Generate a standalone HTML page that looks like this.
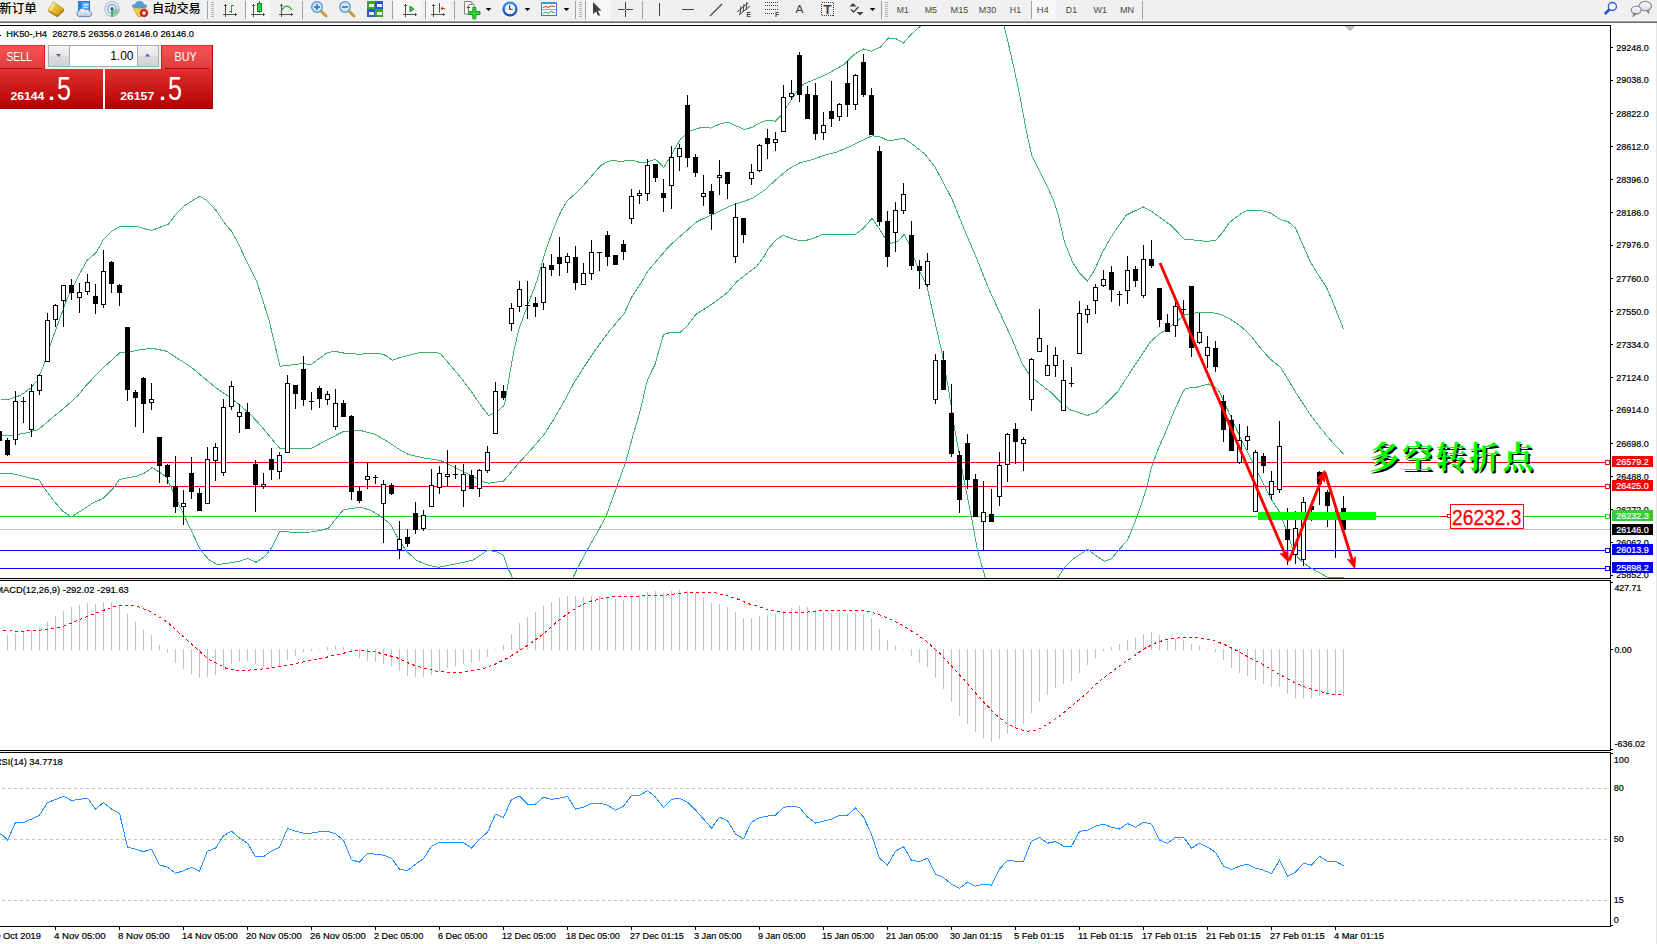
<!DOCTYPE html>
<html lang="zh"><head><meta charset="utf-8"><title>HK50-,H4</title>
<style>html,body{margin:0;padding:0;background:#fff;overflow:hidden}svg{display:block}text{white-space:pre}</style></head>
<body>
<svg width="1657" height="944" viewBox="0 0 1657 944" font-family="&quot;Liberation Sans&quot;, &quot;Noto Sans CJK SC&quot;, sans-serif">
<rect x="0" y="0" width="1657" height="944" fill="#ffffff"/>
<g shape-rendering="crispEdges">
<rect x="0" y="25" width="1611" height="1" fill="#000"/>
<rect x="1610" y="25" width="1" height="902" fill="#000"/>
<rect x="0" y="578" width="1611" height="1" fill="#000"/>
<rect x="0" y="580" width="1611" height="1" fill="#000"/>
<rect x="0" y="750" width="1611" height="1" fill="#000"/>
<rect x="0" y="752" width="1611" height="1" fill="#000"/>
<rect x="0" y="926" width="1611" height="1" fill="#000"/>
<rect x="0" y="579" width="1611" height="1" fill="#f0f0f0"/>
<rect x="0" y="751" width="1611" height="1" fill="#f0f0f0"/>
</g>
<clipPath id="cm"><rect x="0" y="26" width="1610" height="552"/></clipPath>
<g clip-path="url(#cm)" shape-rendering="crispEdges">
<rect x="0" y="462" width="1610" height="1" fill="#ff0000"/>
<rect x="0" y="486" width="1610" height="1" fill="#ff0000"/>
<rect x="0" y="516" width="1610" height="1" fill="#32cd32"/>
<rect x="0" y="529" width="1610" height="1" fill="#c0c0c0"/>
<rect x="0" y="550" width="1610" height="1" fill="#0000ff"/>
<rect x="0" y="568" width="1610" height="1" fill="#0000ff"/>
<polyline points="0.5,399.7 8.5,399.7 20.5,395.3 30.5,388.3 37.5,380.3 42.5,368.2 50.5,344.2 58.5,322.1 66.5,300.1 76.5,280.1 86.5,261.0 90.5,257.6 96.5,252.1 103.2,240.0 112.2,231.0 120.1,226.4 137.6,226.4 143.6,228.6 152.1,230.4 159.3,227.4 168.4,224.3 175.0,215.3 184.7,205.6 193.2,200.2 199.8,196.3 206.4,200.2 216.1,210.5 224.6,223.1 231.8,231.6 237.8,242.5 247.5,263.0 257.0,282.1 269.0,320.1 280.0,366.2 289.0,365.2 303.0,363.6 311.1,364.6 321.1,357.2 326.5,353.2 334.5,351.2 344.5,353.2 358.5,354.2 378.5,353.2 385.5,355.3 392.2,360.3 400.5,357.3 418.5,352.8 435.5,352.4 440.5,353.7 450.5,365.3 460.5,377.3 470.5,390.3 480.5,405.0 488.5,415.6 496.5,412.0 503.5,406.0 504.8,403.3 508.8,379.3 513.8,351.2 518.9,329.2 526.9,307.2 536.9,281.1 544.7,254.0 547.7,245.0 552.0,233.0 556.2,222.1 561.0,211.3 567.1,201.0 573.1,195.6 581.5,187.7 588.8,179.3 596.1,170.8 600.9,165.4 608.1,161.5 613.0,160.2 620.2,161.5 628.7,160.3 634.7,160.8 639.5,162.3 646.8,162.3 655.2,159.1 659.5,162.9 663.7,167.5 670.3,156.9 675.8,147.2 680.5,139.1 689.5,131.1 702.5,127.1 710.5,128.1 720.5,123.7 728.5,122.1 736.5,126.1 744.5,129.5 752.5,127.1 760.5,122.6 767.5,120.2 775.5,121.2 780.5,116.2 788.5,104.1 796.5,92.1 803.5,84.1 810.5,81.1 820.5,77.1 832.5,71.1 844.5,64.1 854.5,54.1 863.5,49.0 871.5,51.1 880.5,47.0 888.5,38.0 896.5,39.0 903.5,43.0 910.5,35.0 920.5,26.0 923.5,22.0" fill="none" stroke="#3cb371" stroke-width="1"/>
<polyline points="1003.0,22.0 1003.9,26.0 1008.9,46.0 1014.9,72.1 1021.0,102.1 1027.0,134.2 1032.0,156.2 1041.0,174.3 1049.0,190.3 1053.5,200.0 1058.5,216.0 1064.5,242.1 1072.5,262.1 1080.5,274.1 1087.5,281.1 1094.5,270.1 1102.5,252.1 1110.5,238.1 1118.5,226.0 1126.5,215.0 1134.5,211.0 1143.5,207.0 1152.5,212.0 1160.5,218.0 1170.5,225.0 1177.5,232.1 1184.0,239.1 1195.0,240.1 1207.0,241.5 1216.0,240.1 1223.0,232.1 1229.1,223.0 1232.5,220.0 1240.5,214.0 1247.5,210.0 1259.5,210.0 1270.5,213.0 1280.5,219.4 1288.5,222.0 1295.5,228.1 1302.5,244.1 1310.5,262.1 1318.5,275.1 1326.5,287.2 1334.5,306.2 1343.5,329.2" fill="none" stroke="#3cb371" stroke-width="1"/>
<polyline points="0.5,435.0 12.5,435.1 26.5,433.0 38.5,429.5 52.5,417.5 66.5,406.0 78.5,395.0 84.5,387.3 100.5,370.2 120.1,352.6 130.5,351.6 140.5,349.8 151.5,348.2 166.5,351.2 180.5,360.2 192.5,368.2 204.5,378.2 216.5,388.3 228.5,396.3 240.5,405.6 251.5,415.6 261.5,426.5 271.0,438.1 280.0,448.5 311.1,448.5 321.1,443.1 332.5,437.1 343.5,431.5 360.5,430.5 374.5,434.1 388.5,442.1 400.5,450.1 408.5,454.5 424.5,458.1 440.5,460.5 450.5,465.1 460.5,470.1 472.5,476.1 482.5,481.6 488.5,483.2 503.5,481.2 510.5,473.1 520.5,461.1 532.5,448.1 544.5,434.1 554.5,418.0 564.9,399.9 573.8,383.1 584.2,366.8 596.1,349.0 608.0,332.7 624.3,313.4 631.7,297.1 640.6,283.7 647.3,271.9 656.9,260.5 668.5,246.9 677.0,239.0 685.4,231.8 696.3,222.1 703.5,218.5 712.0,214.9 719.2,211.3 726.5,207.6 733.7,204.6 740.5,202.6 752.5,198.2 764.5,190.2 776.5,179.2 788.5,169.1 800.5,162.5 812.5,159.7 824.5,155.1 836.5,152.1 848.5,147.1 860.5,141.1 872.5,135.7 880.5,137.1 889.0,141.1 903.0,138.1 911.0,143.1 925.0,154.1 935.1,167.1 943.1,182.2 952.5,200.2 964.5,230.1 976.5,258.1 988.5,288.2 1000.5,314.2 1012.5,340.3 1022.5,364.3 1030.5,376.3 1040.5,384.3 1050.5,392.0 1060.5,402.0 1070.5,410.0 1087.5,415.4 1096.5,412.0 1106.5,403.0 1117.5,392.0 1128.9,374.3 1140.9,356.3 1150.9,341.3 1159.0,334.2 1167.0,329.2 1177.0,321.2 1185.0,314.6 1197.0,312.6 1209.0,312.2 1220.5,314.2 1230.5,319.2 1240.5,326.2 1250.5,335.2 1260.5,348.3 1270.5,359.3 1280.5,367.3 1288.5,380.3 1295.5,392.0 1308.5,412.0 1320.5,428.1 1330.5,440.1 1343.5,454.0" fill="none" stroke="#3cb371" stroke-width="1"/>
<polyline points="0.5,473.5 12.5,473.7 26.5,477.1 39.5,480.2 43.5,487.2 52.5,499.2 62.5,511.2 71.5,516.8 80.5,511.2 92.5,503.2 103.5,498.2 112.5,489.2 119.5,479.6 136.5,476.1 144.5,473.1 152.2,467.5 166.5,477.1 174.5,495.2 184.5,516.2 192.5,533.2 200.5,550.3 208.5,559.3 216.5,564.3 224.5,563.9 240.5,560.9 247.9,558.3 256.0,562.3 265.0,556.3 272.0,547.3 280.0,531.2 293.0,532.4 311.0,532.0 321.1,530.2 328.5,528.2 336.5,518.2 343.5,509.6 360.5,507.2 370.5,510.2 380.5,516.2 390.5,524.2 397.5,537.3 406.5,551.3 416.5,560.3 428.5,565.3 438.5,567.3 448.5,565.3 460.5,562.9 472.5,560.3 480.5,555.3 487.5,550.3 496.5,551.7 503.5,555.3 507.5,567.3 512.5,577.7 513.5,580.0" fill="none" stroke="#3cb371" stroke-width="1"/>
<polyline points="572.0,580.0 573.0,577.7 578.0,567.3 587.0,550.3 598.0,531.2 606.0,516.2 617.0,486.2 626.0,461.1 633.0,435.1 639.1,415.0 642.8,400.0 646.5,383.1 649.5,375.7 655.4,363.8 658.4,352.0 663.6,334.6 669.5,332.7 679.9,332.4 686.6,326.7 696.2,314.1 705.9,308.2 717.7,300.0 728.1,291.9 737.0,281.5 747.4,273.3 756.3,266.7 763.7,257.0 768.5,248.3 776.5,239.3 783.5,235.3 790.5,238.3 798.5,240.3 806.5,240.3 814.5,237.9 822.5,234.3 840.5,234.3 855.5,234.3 863.5,228.2 872.0,218.2 879.0,228.2 885.0,238.3 891.0,243.3 898.0,241.3 904.0,234.3 909.0,244.3 915.0,260.3 921.0,274.3 926.5,284.2 934.5,320.2 941.5,350.3 948.5,389.0 954.5,428.1 962.5,472.1 970.5,512.2 977.5,550.3 982.5,568.3 985.5,578.3 986.0,580.0" fill="none" stroke="#3cb371" stroke-width="1"/>
<polyline points="1057.0,580.0 1057.5,578.3 1064.5,567.3 1072.5,559.3 1080.5,554.3 1087.5,549.3 1095.5,555.3 1104.5,561.3 1111.5,558.7 1118.5,550.3 1127.5,540.3 1136.5,518.2 1146.5,488.2 1151.5,467.1 1158.5,448.1 1166.5,430.1 1174.5,410.0 1183.0,392.0 1185.5,388.3 1196.5,387.3 1208.5,384.0 1216.5,388.3 1219.5,392.0 1230.5,416.0 1240.5,438.1 1250.5,458.1 1260.5,478.2 1270.5,498.2 1278.5,510.2 1283.5,522.2 1288.5,536.3 1292.5,548.3 1298.5,558.3 1305.5,564.3 1312.5,568.9 1320.5,573.3 1327.5,577.3 1343.5,577.3" fill="none" stroke="#3cb371" stroke-width="1"/>
<rect x="-1" y="431" width="1" height="10" fill="#000"/>
<rect x="-3" y="431" width="5" height="10" fill="#000"/>
<rect x="7" y="438" width="1" height="18" fill="#000"/>
<rect x="5" y="440" width="5" height="15" fill="#000"/>
<rect x="15" y="391" width="1" height="54" fill="#000"/>
<rect x="13" y="401" width="5" height="39" fill="#000"/>
<rect x="14" y="402" width="3" height="37" fill="#fff"/>
<rect x="23" y="397" width="1" height="26" fill="#000"/>
<rect x="21" y="401" width="5" height="1" fill="#000"/>
<rect x="31" y="384" width="1" height="53" fill="#000"/>
<rect x="29" y="391" width="5" height="39" fill="#000"/>
<rect x="30" y="392" width="3" height="37" fill="#fff"/>
<rect x="39" y="374" width="1" height="21" fill="#000"/>
<rect x="37" y="375" width="5" height="16" fill="#000"/>
<rect x="38" y="376" width="3" height="14" fill="#fff"/>
<rect x="47" y="313" width="1" height="49" fill="#000"/>
<rect x="45" y="320" width="5" height="42" fill="#000"/>
<rect x="46" y="321" width="3" height="40" fill="#fff"/>
<rect x="55" y="304" width="1" height="23" fill="#000"/>
<rect x="53" y="305" width="5" height="15" fill="#000"/>
<rect x="54" y="306" width="3" height="13" fill="#fff"/>
<rect x="63" y="285" width="1" height="42" fill="#000"/>
<rect x="61" y="285" width="5" height="16" fill="#000"/>
<rect x="62" y="286" width="3" height="14" fill="#fff"/>
<rect x="71" y="279" width="1" height="21" fill="#000"/>
<rect x="69" y="285" width="5" height="8" fill="#000"/>
<rect x="79" y="283" width="1" height="30" fill="#000"/>
<rect x="77" y="292" width="5" height="6" fill="#000"/>
<rect x="78" y="293" width="3" height="4" fill="#fff"/>
<rect x="87" y="274" width="1" height="21" fill="#000"/>
<rect x="85" y="282" width="5" height="10" fill="#000"/>
<rect x="86" y="283" width="3" height="8" fill="#fff"/>
<rect x="95" y="284" width="1" height="30" fill="#000"/>
<rect x="93" y="296" width="5" height="8" fill="#000"/>
<rect x="103" y="250" width="1" height="58" fill="#000"/>
<rect x="101" y="271" width="5" height="34" fill="#000"/>
<rect x="102" y="272" width="3" height="32" fill="#fff"/>
<rect x="111" y="261" width="1" height="32" fill="#000"/>
<rect x="109" y="262" width="5" height="22" fill="#000"/>
<rect x="119" y="284" width="1" height="22" fill="#000"/>
<rect x="117" y="285" width="5" height="8" fill="#000"/>
<rect x="127" y="327" width="1" height="74" fill="#000"/>
<rect x="125" y="327" width="5" height="63" fill="#000"/>
<rect x="135" y="390" width="1" height="37" fill="#000"/>
<rect x="133" y="392" width="5" height="6" fill="#000"/>
<rect x="143" y="377" width="1" height="56" fill="#000"/>
<rect x="141" y="378" width="5" height="26" fill="#000"/>
<rect x="151" y="383" width="1" height="27" fill="#000"/>
<rect x="149" y="399" width="5" height="4" fill="#000"/>
<rect x="150" y="400" width="3" height="2" fill="#fff"/>
<rect x="159" y="437" width="1" height="46" fill="#000"/>
<rect x="157" y="437" width="5" height="29" fill="#000"/>
<rect x="167" y="464" width="1" height="20" fill="#000"/>
<rect x="165" y="465" width="5" height="12" fill="#000"/>
<rect x="175" y="456" width="1" height="57" fill="#000"/>
<rect x="173" y="486" width="5" height="21" fill="#000"/>
<rect x="183" y="490" width="1" height="35" fill="#000"/>
<rect x="181" y="503" width="5" height="4" fill="#000"/>
<rect x="182" y="504" width="3" height="2" fill="#fff"/>
<rect x="191" y="457" width="1" height="42" fill="#000"/>
<rect x="189" y="473" width="5" height="19" fill="#000"/>
<rect x="199" y="488" width="1" height="23" fill="#000"/>
<rect x="197" y="493" width="5" height="18" fill="#000"/>
<rect x="207" y="447" width="1" height="57" fill="#000"/>
<rect x="205" y="459" width="5" height="45" fill="#000"/>
<rect x="206" y="460" width="3" height="43" fill="#fff"/>
<rect x="215" y="443" width="1" height="38" fill="#000"/>
<rect x="213" y="447" width="5" height="14" fill="#000"/>
<rect x="214" y="448" width="3" height="12" fill="#fff"/>
<rect x="223" y="399" width="1" height="77" fill="#000"/>
<rect x="221" y="407" width="5" height="66" fill="#000"/>
<rect x="222" y="408" width="3" height="64" fill="#fff"/>
<rect x="231" y="381" width="1" height="29" fill="#000"/>
<rect x="229" y="386" width="5" height="21" fill="#000"/>
<rect x="230" y="387" width="3" height="19" fill="#fff"/>
<rect x="239" y="404" width="1" height="29" fill="#000"/>
<rect x="237" y="412" width="5" height="5" fill="#000"/>
<rect x="238" y="413" width="3" height="3" fill="#fff"/>
<rect x="247" y="403" width="1" height="26" fill="#000"/>
<rect x="245" y="412" width="5" height="17" fill="#000"/>
<rect x="255" y="460" width="1" height="52" fill="#000"/>
<rect x="253" y="464" width="5" height="21" fill="#000"/>
<rect x="263" y="473" width="1" height="16" fill="#000"/>
<rect x="261" y="484" width="5" height="3" fill="#000"/>
<rect x="262" y="485" width="3" height="1" fill="#fff"/>
<rect x="271" y="448" width="1" height="32" fill="#000"/>
<rect x="269" y="459" width="5" height="11" fill="#000"/>
<rect x="279" y="452" width="1" height="27" fill="#000"/>
<rect x="277" y="455" width="5" height="17" fill="#000"/>
<rect x="278" y="456" width="3" height="15" fill="#fff"/>
<rect x="287" y="375" width="1" height="78" fill="#000"/>
<rect x="285" y="383" width="5" height="70" fill="#000"/>
<rect x="286" y="384" width="3" height="68" fill="#fff"/>
<rect x="295" y="385" width="1" height="24" fill="#000"/>
<rect x="293" y="385" width="5" height="9" fill="#000"/>
<rect x="303" y="356" width="1" height="50" fill="#000"/>
<rect x="301" y="369" width="5" height="31" fill="#000"/>
<rect x="311" y="392" width="1" height="18" fill="#000"/>
<rect x="309" y="401" width="5" height="1" fill="#000"/>
<rect x="319" y="386" width="1" height="22" fill="#000"/>
<rect x="317" y="388" width="5" height="11" fill="#000"/>
<rect x="327" y="391" width="1" height="14" fill="#000"/>
<rect x="325" y="394" width="5" height="6" fill="#000"/>
<rect x="326" y="395" width="3" height="4" fill="#fff"/>
<rect x="335" y="389" width="1" height="41" fill="#000"/>
<rect x="333" y="403" width="5" height="24" fill="#000"/>
<rect x="334" y="404" width="3" height="22" fill="#fff"/>
<rect x="343" y="400" width="1" height="17" fill="#000"/>
<rect x="341" y="403" width="5" height="14" fill="#000"/>
<rect x="351" y="415" width="1" height="85" fill="#000"/>
<rect x="349" y="416" width="5" height="76" fill="#000"/>
<rect x="359" y="487" width="1" height="16" fill="#000"/>
<rect x="357" y="491" width="5" height="10" fill="#000"/>
<rect x="367" y="463" width="1" height="26" fill="#000"/>
<rect x="365" y="476" width="5" height="4" fill="#000"/>
<rect x="366" y="477" width="3" height="2" fill="#fff"/>
<rect x="375" y="475" width="1" height="9" fill="#000"/>
<rect x="373" y="477" width="5" height="1" fill="#000"/>
<rect x="383" y="480" width="1" height="63" fill="#000"/>
<rect x="381" y="484" width="5" height="20" fill="#000"/>
<rect x="382" y="485" width="3" height="18" fill="#fff"/>
<rect x="391" y="483" width="1" height="12" fill="#000"/>
<rect x="389" y="485" width="5" height="9" fill="#000"/>
<rect x="399" y="521" width="1" height="38" fill="#000"/>
<rect x="397" y="539" width="5" height="11" fill="#000"/>
<rect x="398" y="540" width="3" height="9" fill="#fff"/>
<rect x="407" y="529" width="1" height="18" fill="#000"/>
<rect x="405" y="537" width="5" height="7" fill="#000"/>
<rect x="415" y="502" width="1" height="32" fill="#000"/>
<rect x="413" y="513" width="5" height="17" fill="#000"/>
<rect x="423" y="510" width="1" height="21" fill="#000"/>
<rect x="421" y="515" width="5" height="14" fill="#000"/>
<rect x="422" y="516" width="3" height="12" fill="#fff"/>
<rect x="431" y="469" width="1" height="38" fill="#000"/>
<rect x="429" y="485" width="5" height="22" fill="#000"/>
<rect x="430" y="486" width="3" height="20" fill="#fff"/>
<rect x="439" y="466" width="1" height="28" fill="#000"/>
<rect x="437" y="473" width="5" height="15" fill="#000"/>
<rect x="438" y="474" width="3" height="13" fill="#fff"/>
<rect x="447" y="450" width="1" height="36" fill="#000"/>
<rect x="445" y="474" width="5" height="3" fill="#000"/>
<rect x="446" y="475" width="3" height="1" fill="#fff"/>
<rect x="455" y="465" width="1" height="14" fill="#000"/>
<rect x="453" y="474" width="5" height="1" fill="#000"/>
<rect x="463" y="464" width="1" height="43" fill="#000"/>
<rect x="461" y="474" width="5" height="17" fill="#000"/>
<rect x="462" y="475" width="3" height="15" fill="#fff"/>
<rect x="471" y="470" width="1" height="19" fill="#000"/>
<rect x="469" y="475" width="5" height="14" fill="#000"/>
<rect x="479" y="469" width="1" height="28" fill="#000"/>
<rect x="477" y="470" width="5" height="19" fill="#000"/>
<rect x="478" y="471" width="3" height="17" fill="#fff"/>
<rect x="487" y="446" width="1" height="27" fill="#000"/>
<rect x="485" y="452" width="5" height="19" fill="#000"/>
<rect x="486" y="453" width="3" height="17" fill="#fff"/>
<rect x="495" y="382" width="1" height="52" fill="#000"/>
<rect x="493" y="391" width="5" height="43" fill="#000"/>
<rect x="494" y="392" width="3" height="41" fill="#fff"/>
<rect x="503" y="385" width="1" height="15" fill="#000"/>
<rect x="501" y="391" width="5" height="7" fill="#000"/>
<rect x="511" y="303" width="1" height="28" fill="#000"/>
<rect x="509" y="308" width="5" height="16" fill="#000"/>
<rect x="510" y="309" width="3" height="14" fill="#fff"/>
<rect x="519" y="281" width="1" height="31" fill="#000"/>
<rect x="517" y="289" width="5" height="18" fill="#000"/>
<rect x="518" y="290" width="3" height="16" fill="#fff"/>
<rect x="527" y="281" width="1" height="38" fill="#000"/>
<rect x="525" y="305" width="5" height="1" fill="#000"/>
<rect x="535" y="297" width="1" height="20" fill="#000"/>
<rect x="533" y="303" width="5" height="4" fill="#000"/>
<rect x="543" y="263" width="1" height="47" fill="#000"/>
<rect x="541" y="267" width="5" height="36" fill="#000"/>
<rect x="542" y="268" width="3" height="34" fill="#fff"/>
<rect x="551" y="254" width="1" height="22" fill="#000"/>
<rect x="549" y="265" width="5" height="5" fill="#000"/>
<rect x="559" y="237" width="1" height="39" fill="#000"/>
<rect x="557" y="257" width="5" height="7" fill="#000"/>
<rect x="567" y="253" width="1" height="20" fill="#000"/>
<rect x="565" y="256" width="5" height="7" fill="#000"/>
<rect x="566" y="257" width="3" height="5" fill="#fff"/>
<rect x="575" y="246" width="1" height="44" fill="#000"/>
<rect x="573" y="257" width="5" height="26" fill="#000"/>
<rect x="583" y="263" width="1" height="22" fill="#000"/>
<rect x="581" y="273" width="5" height="12" fill="#000"/>
<rect x="582" y="274" width="3" height="10" fill="#fff"/>
<rect x="591" y="240" width="1" height="40" fill="#000"/>
<rect x="589" y="252" width="5" height="22" fill="#000"/>
<rect x="590" y="253" width="3" height="20" fill="#fff"/>
<rect x="599" y="252" width="1" height="19" fill="#000"/>
<rect x="597" y="252" width="5" height="1" fill="#000"/>
<rect x="607" y="231" width="1" height="35" fill="#000"/>
<rect x="605" y="235" width="5" height="22" fill="#000"/>
<rect x="615" y="255" width="1" height="10" fill="#000"/>
<rect x="613" y="255" width="5" height="10" fill="#000"/>
<rect x="623" y="240" width="1" height="20" fill="#000"/>
<rect x="621" y="244" width="5" height="8" fill="#000"/>
<rect x="631" y="189" width="1" height="35" fill="#000"/>
<rect x="629" y="196" width="5" height="23" fill="#000"/>
<rect x="630" y="197" width="3" height="21" fill="#fff"/>
<rect x="639" y="190" width="1" height="14" fill="#000"/>
<rect x="637" y="193" width="5" height="3" fill="#000"/>
<rect x="638" y="194" width="3" height="1" fill="#fff"/>
<rect x="647" y="159" width="1" height="42" fill="#000"/>
<rect x="645" y="165" width="5" height="29" fill="#000"/>
<rect x="646" y="166" width="3" height="27" fill="#fff"/>
<rect x="655" y="164" width="1" height="18" fill="#000"/>
<rect x="653" y="164" width="5" height="14" fill="#000"/>
<rect x="663" y="179" width="1" height="33" fill="#000"/>
<rect x="661" y="193" width="5" height="5" fill="#000"/>
<rect x="671" y="146" width="1" height="63" fill="#000"/>
<rect x="669" y="157" width="5" height="29" fill="#000"/>
<rect x="670" y="158" width="3" height="27" fill="#fff"/>
<rect x="679" y="144" width="1" height="27" fill="#000"/>
<rect x="677" y="148" width="5" height="9" fill="#000"/>
<rect x="678" y="149" width="3" height="7" fill="#fff"/>
<rect x="687" y="95" width="1" height="72" fill="#000"/>
<rect x="685" y="105" width="5" height="53" fill="#000"/>
<rect x="695" y="154" width="1" height="23" fill="#000"/>
<rect x="693" y="157" width="5" height="16" fill="#000"/>
<rect x="703" y="175" width="1" height="31" fill="#000"/>
<rect x="701" y="193" width="5" height="4" fill="#000"/>
<rect x="702" y="194" width="3" height="2" fill="#fff"/>
<rect x="711" y="184" width="1" height="46" fill="#000"/>
<rect x="709" y="191" width="5" height="23" fill="#000"/>
<rect x="719" y="160" width="1" height="35" fill="#000"/>
<rect x="717" y="175" width="5" height="3" fill="#000"/>
<rect x="718" y="176" width="3" height="1" fill="#fff"/>
<rect x="727" y="172" width="1" height="27" fill="#000"/>
<rect x="725" y="172" width="5" height="12" fill="#000"/>
<rect x="735" y="203" width="1" height="60" fill="#000"/>
<rect x="733" y="217" width="5" height="40" fill="#000"/>
<rect x="734" y="218" width="3" height="38" fill="#fff"/>
<rect x="743" y="218" width="1" height="25" fill="#000"/>
<rect x="741" y="218" width="5" height="17" fill="#000"/>
<rect x="751" y="164" width="1" height="21" fill="#000"/>
<rect x="749" y="172" width="5" height="7" fill="#000"/>
<rect x="750" y="173" width="3" height="5" fill="#fff"/>
<rect x="759" y="144" width="1" height="28" fill="#000"/>
<rect x="757" y="145" width="5" height="26" fill="#000"/>
<rect x="758" y="146" width="3" height="24" fill="#fff"/>
<rect x="767" y="129" width="1" height="30" fill="#000"/>
<rect x="765" y="138" width="5" height="6" fill="#000"/>
<rect x="775" y="132" width="1" height="19" fill="#000"/>
<rect x="773" y="139" width="5" height="4" fill="#000"/>
<rect x="774" y="140" width="3" height="2" fill="#fff"/>
<rect x="783" y="85" width="1" height="47" fill="#000"/>
<rect x="781" y="97" width="5" height="35" fill="#000"/>
<rect x="782" y="98" width="3" height="33" fill="#fff"/>
<rect x="791" y="80" width="1" height="20" fill="#000"/>
<rect x="789" y="93" width="5" height="4" fill="#000"/>
<rect x="790" y="94" width="3" height="2" fill="#fff"/>
<rect x="799" y="52" width="1" height="50" fill="#000"/>
<rect x="797" y="55" width="5" height="40" fill="#000"/>
<rect x="807" y="86" width="1" height="33" fill="#000"/>
<rect x="805" y="94" width="5" height="25" fill="#000"/>
<rect x="815" y="83" width="1" height="57" fill="#000"/>
<rect x="813" y="95" width="5" height="39" fill="#000"/>
<rect x="823" y="112" width="1" height="28" fill="#000"/>
<rect x="821" y="125" width="5" height="8" fill="#000"/>
<rect x="822" y="126" width="3" height="6" fill="#fff"/>
<rect x="831" y="81" width="1" height="46" fill="#000"/>
<rect x="829" y="111" width="5" height="8" fill="#000"/>
<rect x="839" y="103" width="1" height="18" fill="#000"/>
<rect x="837" y="104" width="5" height="13" fill="#000"/>
<rect x="838" y="105" width="3" height="11" fill="#fff"/>
<rect x="847" y="61" width="1" height="56" fill="#000"/>
<rect x="845" y="83" width="5" height="22" fill="#000"/>
<rect x="855" y="74" width="1" height="36" fill="#000"/>
<rect x="853" y="75" width="5" height="30" fill="#000"/>
<rect x="854" y="76" width="3" height="28" fill="#fff"/>
<rect x="863" y="54" width="1" height="43" fill="#000"/>
<rect x="861" y="62" width="5" height="33" fill="#000"/>
<rect x="871" y="88" width="1" height="47" fill="#000"/>
<rect x="869" y="95" width="5" height="40" fill="#000"/>
<rect x="879" y="146" width="1" height="80" fill="#000"/>
<rect x="877" y="151" width="5" height="71" fill="#000"/>
<rect x="887" y="211" width="1" height="56" fill="#000"/>
<rect x="885" y="221" width="5" height="36" fill="#000"/>
<rect x="895" y="202" width="1" height="50" fill="#000"/>
<rect x="893" y="210" width="5" height="23" fill="#000"/>
<rect x="894" y="211" width="3" height="21" fill="#fff"/>
<rect x="903" y="183" width="1" height="31" fill="#000"/>
<rect x="901" y="194" width="5" height="17" fill="#000"/>
<rect x="902" y="195" width="3" height="15" fill="#fff"/>
<rect x="911" y="221" width="1" height="49" fill="#000"/>
<rect x="909" y="235" width="5" height="31" fill="#000"/>
<rect x="919" y="260" width="1" height="29" fill="#000"/>
<rect x="917" y="266" width="5" height="5" fill="#000"/>
<rect x="927" y="253" width="1" height="34" fill="#000"/>
<rect x="925" y="261" width="5" height="24" fill="#000"/>
<rect x="926" y="262" width="3" height="22" fill="#fff"/>
<rect x="935" y="354" width="1" height="50" fill="#000"/>
<rect x="933" y="360" width="5" height="40" fill="#000"/>
<rect x="934" y="361" width="3" height="38" fill="#fff"/>
<rect x="943" y="351" width="1" height="39" fill="#000"/>
<rect x="941" y="360" width="5" height="30" fill="#000"/>
<rect x="951" y="384" width="1" height="73" fill="#000"/>
<rect x="949" y="413" width="5" height="41" fill="#000"/>
<rect x="959" y="451" width="1" height="62" fill="#000"/>
<rect x="957" y="455" width="5" height="45" fill="#000"/>
<rect x="967" y="434" width="1" height="55" fill="#000"/>
<rect x="965" y="443" width="5" height="37" fill="#000"/>
<rect x="975" y="474" width="1" height="43" fill="#000"/>
<rect x="973" y="479" width="5" height="38" fill="#000"/>
<rect x="983" y="481" width="1" height="69" fill="#000"/>
<rect x="981" y="512" width="5" height="10" fill="#000"/>
<rect x="982" y="513" width="3" height="8" fill="#fff"/>
<rect x="991" y="489" width="1" height="33" fill="#000"/>
<rect x="989" y="514" width="5" height="8" fill="#000"/>
<rect x="999" y="452" width="1" height="54" fill="#000"/>
<rect x="997" y="465" width="5" height="32" fill="#000"/>
<rect x="998" y="466" width="3" height="30" fill="#fff"/>
<rect x="1007" y="433" width="1" height="49" fill="#000"/>
<rect x="1005" y="434" width="5" height="31" fill="#000"/>
<rect x="1006" y="435" width="3" height="29" fill="#fff"/>
<rect x="1015" y="423" width="1" height="41" fill="#000"/>
<rect x="1013" y="429" width="5" height="13" fill="#000"/>
<rect x="1023" y="437" width="1" height="34" fill="#000"/>
<rect x="1021" y="439" width="5" height="5" fill="#000"/>
<rect x="1022" y="440" width="3" height="3" fill="#fff"/>
<rect x="1031" y="358" width="1" height="53" fill="#000"/>
<rect x="1029" y="359" width="5" height="41" fill="#000"/>
<rect x="1030" y="360" width="3" height="39" fill="#fff"/>
<rect x="1039" y="309" width="1" height="43" fill="#000"/>
<rect x="1037" y="338" width="5" height="14" fill="#000"/>
<rect x="1038" y="339" width="3" height="12" fill="#fff"/>
<rect x="1047" y="345" width="1" height="31" fill="#000"/>
<rect x="1045" y="365" width="5" height="11" fill="#000"/>
<rect x="1046" y="366" width="3" height="9" fill="#fff"/>
<rect x="1055" y="347" width="1" height="30" fill="#000"/>
<rect x="1053" y="355" width="5" height="11" fill="#000"/>
<rect x="1054" y="356" width="3" height="9" fill="#fff"/>
<rect x="1063" y="360" width="1" height="51" fill="#000"/>
<rect x="1061" y="380" width="5" height="31" fill="#000"/>
<rect x="1062" y="381" width="3" height="29" fill="#fff"/>
<rect x="1071" y="367" width="1" height="20" fill="#000"/>
<rect x="1069" y="383" width="5" height="1" fill="#000"/>
<rect x="1079" y="301" width="1" height="53" fill="#000"/>
<rect x="1077" y="313" width="5" height="41" fill="#000"/>
<rect x="1078" y="314" width="3" height="39" fill="#fff"/>
<rect x="1087" y="305" width="1" height="18" fill="#000"/>
<rect x="1085" y="309" width="5" height="6" fill="#000"/>
<rect x="1086" y="310" width="3" height="4" fill="#fff"/>
<rect x="1095" y="284" width="1" height="30" fill="#000"/>
<rect x="1093" y="287" width="5" height="14" fill="#000"/>
<rect x="1094" y="288" width="3" height="12" fill="#fff"/>
<rect x="1103" y="270" width="1" height="17" fill="#000"/>
<rect x="1101" y="279" width="5" height="7" fill="#000"/>
<rect x="1102" y="280" width="3" height="5" fill="#fff"/>
<rect x="1111" y="266" width="1" height="36" fill="#000"/>
<rect x="1109" y="272" width="5" height="18" fill="#000"/>
<rect x="1119" y="291" width="1" height="15" fill="#000"/>
<rect x="1117" y="294" width="5" height="1" fill="#000"/>
<rect x="1127" y="256" width="1" height="48" fill="#000"/>
<rect x="1125" y="270" width="5" height="21" fill="#000"/>
<rect x="1126" y="271" width="3" height="19" fill="#fff"/>
<rect x="1135" y="266" width="1" height="21" fill="#000"/>
<rect x="1133" y="269" width="5" height="12" fill="#000"/>
<rect x="1143" y="245" width="1" height="53" fill="#000"/>
<rect x="1141" y="259" width="5" height="37" fill="#000"/>
<rect x="1142" y="260" width="3" height="35" fill="#fff"/>
<rect x="1151" y="240" width="1" height="28" fill="#000"/>
<rect x="1149" y="259" width="5" height="7" fill="#000"/>
<rect x="1159" y="288" width="1" height="39" fill="#000"/>
<rect x="1157" y="288" width="5" height="32" fill="#000"/>
<rect x="1167" y="314" width="1" height="18" fill="#000"/>
<rect x="1165" y="323" width="5" height="9" fill="#000"/>
<rect x="1175" y="301" width="1" height="36" fill="#000"/>
<rect x="1173" y="306" width="5" height="20" fill="#000"/>
<rect x="1174" y="307" width="3" height="18" fill="#fff"/>
<rect x="1183" y="300" width="1" height="14" fill="#000"/>
<rect x="1181" y="309" width="5" height="1" fill="#000"/>
<rect x="1191" y="286" width="1" height="71" fill="#000"/>
<rect x="1189" y="286" width="5" height="62" fill="#000"/>
<rect x="1199" y="313" width="1" height="31" fill="#000"/>
<rect x="1197" y="332" width="5" height="11" fill="#000"/>
<rect x="1198" y="333" width="3" height="9" fill="#fff"/>
<rect x="1207" y="336" width="1" height="32" fill="#000"/>
<rect x="1205" y="347" width="5" height="9" fill="#000"/>
<rect x="1206" y="348" width="3" height="7" fill="#fff"/>
<rect x="1215" y="341" width="1" height="31" fill="#000"/>
<rect x="1213" y="348" width="5" height="19" fill="#000"/>
<rect x="1223" y="395" width="1" height="47" fill="#000"/>
<rect x="1221" y="401" width="5" height="29" fill="#000"/>
<rect x="1231" y="415" width="1" height="36" fill="#000"/>
<rect x="1229" y="420" width="5" height="31" fill="#000"/>
<rect x="1239" y="424" width="1" height="40" fill="#000"/>
<rect x="1237" y="440" width="5" height="23" fill="#000"/>
<rect x="1238" y="441" width="3" height="21" fill="#fff"/>
<rect x="1247" y="426" width="1" height="24" fill="#000"/>
<rect x="1245" y="436" width="5" height="5" fill="#000"/>
<rect x="1246" y="437" width="3" height="3" fill="#fff"/>
<rect x="1255" y="450" width="1" height="62" fill="#000"/>
<rect x="1253" y="452" width="5" height="60" fill="#000"/>
<rect x="1254" y="453" width="3" height="58" fill="#fff"/>
<rect x="1263" y="453" width="1" height="20" fill="#000"/>
<rect x="1261" y="456" width="5" height="10" fill="#000"/>
<rect x="1271" y="471" width="1" height="29" fill="#000"/>
<rect x="1269" y="481" width="5" height="14" fill="#000"/>
<rect x="1270" y="482" width="3" height="12" fill="#fff"/>
<rect x="1279" y="421" width="1" height="72" fill="#000"/>
<rect x="1277" y="446" width="5" height="44" fill="#000"/>
<rect x="1278" y="447" width="3" height="42" fill="#fff"/>
<rect x="1287" y="508" width="1" height="57" fill="#000"/>
<rect x="1285" y="529" width="5" height="11" fill="#000"/>
<rect x="1295" y="511" width="1" height="53" fill="#000"/>
<rect x="1293" y="528" width="5" height="27" fill="#000"/>
<rect x="1294" y="529" width="3" height="25" fill="#fff"/>
<rect x="1303" y="497" width="1" height="69" fill="#000"/>
<rect x="1301" y="502" width="5" height="58" fill="#000"/>
<rect x="1302" y="503" width="3" height="56" fill="#fff"/>
<rect x="1311" y="505" width="1" height="16" fill="#000"/>
<rect x="1309" y="506" width="5" height="4" fill="#000"/>
<rect x="1319" y="471" width="1" height="34" fill="#000"/>
<rect x="1317" y="472" width="5" height="12" fill="#000"/>
<rect x="1327" y="490" width="1" height="37" fill="#000"/>
<rect x="1325" y="492" width="5" height="14" fill="#000"/>
<rect x="1335" y="507" width="1" height="51" fill="#000"/>
<rect x="1343" y="496" width="1" height="34" fill="#000"/>
<rect x="1341" y="508" width="5" height="22" fill="#000"/>
<polygon points="1344,26 1355,26 1349.5,31.5" fill="#c0c0c0"/>
<rect x="1258" y="512" width="118" height="8" fill="#00ff00"/>
</g>
<g clip-path="url(#cm)" fill="#ff0000" stroke="#ff0000">
<line x1="1160" y1="263" x2="1286.3" y2="557" stroke-width="2.9"/>
<polygon points="1288.4,562.0 1287.9,550.0 1285.0,554.2 1280.0,553.4" stroke-width="0.8"/>
<line x1="1289.2" y1="560.5" x2="1322.8" y2="476.5" stroke-width="2.9"/>
<polygon points="1324.8,470.3 1316.7,479.1 1321.7,478.2 1324.7,482.3" stroke-width="0.8"/>
<line x1="1324.8" y1="472" x2="1352.8" y2="562" stroke-width="2.9"/>
<polygon points="1354.8,568.6 1355.6,556.6 1352.3,560.5 1347.4,559.2" stroke-width="0.8"/>
</g>
<text x="1370.3" y="469.8" font-size="31" fill="#000" font-weight="700" font-family="&quot;Noto Serif CJK SC&quot;, &quot;Noto Sans CJK SC&quot;, serif" letter-spacing="2.4">多空转折点</text>
<text x="1368.8" y="468.3" font-size="31" fill="#00ff00" font-weight="700" font-family="&quot;Noto Serif CJK SC&quot;, &quot;Noto Sans CJK SC&quot;, serif" letter-spacing="2.4">多空转折点</text>
<g shape-rendering="crispEdges">
<rect x="1440" y="516" width="8" height="1" fill="#ff0000"/>
<rect x="1447" y="514" width="4" height="4" fill="#ff0000"/>
<rect x="1448" y="515" width="2" height="2" fill="#fff"/>
<rect x="1450" y="504" width="74" height="25" fill="#ff0000"/>
<rect x="1451" y="505" width="72" height="23" fill="#fff"/>
</g>
<text x="1452" y="525" font-size="22.3" fill="#ff0000" textLength="69.5" lengthAdjust="spacingAndGlyphs" stroke="#ff0000" stroke-width="0.3">26232.3</text>
<g shape-rendering="crispEdges">
<rect x="1605" y="460" width="5" height="5" fill="#ff0000"/>
<rect x="1606" y="461" width="3" height="3" fill="#fff"/>
<rect x="1605" y="484" width="5" height="5" fill="#ff0000"/>
<rect x="1606" y="485" width="3" height="3" fill="#fff"/>
<rect x="1605" y="514" width="5" height="5" fill="#32cd32"/>
<rect x="1606" y="515" width="3" height="3" fill="#fff"/>
<rect x="1605" y="548" width="5" height="5" fill="#0000ff"/>
<rect x="1606" y="549" width="3" height="3" fill="#fff"/>
<rect x="1605" y="566" width="5" height="5" fill="#0000ff"/>
<rect x="1606" y="567" width="3" height="3" fill="#fff"/>
</g>
<g shape-rendering="crispEdges">
<rect x="1611" y="47" width="2" height="1" fill="#000"/>
<rect x="1611" y="80" width="2" height="1" fill="#000"/>
<rect x="1611" y="113" width="2" height="1" fill="#000"/>
<rect x="1611" y="146" width="2" height="1" fill="#000"/>
<rect x="1611" y="179" width="2" height="1" fill="#000"/>
<rect x="1611" y="212" width="2" height="1" fill="#000"/>
<rect x="1611" y="245" width="2" height="1" fill="#000"/>
<rect x="1611" y="278" width="2" height="1" fill="#000"/>
<rect x="1611" y="311" width="2" height="1" fill="#000"/>
<rect x="1611" y="344" width="2" height="1" fill="#000"/>
<rect x="1611" y="377" width="2" height="1" fill="#000"/>
<rect x="1611" y="410" width="2" height="1" fill="#000"/>
<rect x="1611" y="443" width="2" height="1" fill="#000"/>
<rect x="1611" y="476" width="2" height="1" fill="#000"/>
<rect x="1611" y="509" width="2" height="1" fill="#000"/>
<rect x="1611" y="542" width="2" height="1" fill="#000"/>
<rect x="1611" y="575" width="2" height="1" fill="#000"/>
</g>
<text x="1616.2" y="50.8" font-size="9.33" fill="#000" textLength="32.5" lengthAdjust="spacingAndGlyphs" stroke="#000" stroke-width="0.2">29248.0</text>
<text x="1616.2" y="83.4" font-size="9.33" fill="#000" textLength="32.5" lengthAdjust="spacingAndGlyphs" stroke="#000" stroke-width="0.2">29038.0</text>
<text x="1616.2" y="117.0" font-size="9.33" fill="#000" textLength="32.5" lengthAdjust="spacingAndGlyphs" stroke="#000" stroke-width="0.2">28822.0</text>
<text x="1616.2" y="149.6" font-size="9.33" fill="#000" textLength="32.5" lengthAdjust="spacingAndGlyphs" stroke="#000" stroke-width="0.2">28612.0</text>
<text x="1616.2" y="183.2" font-size="9.33" fill="#000" textLength="32.5" lengthAdjust="spacingAndGlyphs" stroke="#000" stroke-width="0.2">28396.0</text>
<text x="1616.2" y="215.8" font-size="9.33" fill="#000" textLength="32.5" lengthAdjust="spacingAndGlyphs" stroke="#000" stroke-width="0.2">28186.0</text>
<text x="1616.2" y="248.4" font-size="9.33" fill="#000" textLength="32.5" lengthAdjust="spacingAndGlyphs" stroke="#000" stroke-width="0.2">27976.0</text>
<text x="1616.2" y="282.0" font-size="9.33" fill="#000" textLength="32.5" lengthAdjust="spacingAndGlyphs" stroke="#000" stroke-width="0.2">27760.0</text>
<text x="1616.2" y="314.6" font-size="9.33" fill="#000" textLength="32.5" lengthAdjust="spacingAndGlyphs" stroke="#000" stroke-width="0.2">27550.0</text>
<text x="1616.2" y="348.1" font-size="9.33" fill="#000" textLength="32.5" lengthAdjust="spacingAndGlyphs" stroke="#000" stroke-width="0.2">27334.0</text>
<text x="1616.2" y="380.8" font-size="9.33" fill="#000" textLength="32.5" lengthAdjust="spacingAndGlyphs" stroke="#000" stroke-width="0.2">27124.0</text>
<text x="1616.2" y="413.4" font-size="9.33" fill="#000" textLength="32.5" lengthAdjust="spacingAndGlyphs" stroke="#000" stroke-width="0.2">26914.0</text>
<text x="1616.2" y="446.9" font-size="9.33" fill="#000" textLength="32.5" lengthAdjust="spacingAndGlyphs" stroke="#000" stroke-width="0.2">26698.0</text>
<text x="1616.2" y="479.6" font-size="9.33" fill="#000" textLength="32.5" lengthAdjust="spacingAndGlyphs" stroke="#000" stroke-width="0.2">26488.0</text>
<text x="1616.2" y="513.1" font-size="9.33" fill="#000" textLength="32.5" lengthAdjust="spacingAndGlyphs" stroke="#000" stroke-width="0.2">26272.0</text>
<text x="1616.2" y="545.7" font-size="9.33" fill="#000" textLength="32.5" lengthAdjust="spacingAndGlyphs" stroke="#000" stroke-width="0.2">26062.0</text>
<text x="1616.2" y="578.4" font-size="9.33" fill="#000" textLength="32.5" lengthAdjust="spacingAndGlyphs" stroke="#000" stroke-width="0.2">25852.0</text>
<g shape-rendering="crispEdges">
<rect x="1612" y="456" width="41" height="11" fill="#ff0000"/>
<rect x="1612" y="480" width="41" height="11" fill="#ff0000"/>
<rect x="1612" y="510" width="41" height="11" fill="#32cd32"/>
<rect x="1612" y="524" width="41" height="11" fill="#000000"/>
<rect x="1612" y="544" width="41" height="11" fill="#0000ff"/>
<rect x="1612" y="562" width="41" height="11" fill="#0000ff"/>
</g>
<text x="1616.2" y="465.1" font-size="9.33" fill="#fff" textLength="32.5" lengthAdjust="spacingAndGlyphs" stroke="#fff" stroke-width="0.2">26579.2</text>
<text x="1616.2" y="489.1" font-size="9.33" fill="#fff" textLength="32.5" lengthAdjust="spacingAndGlyphs" stroke="#fff" stroke-width="0.2">26425.0</text>
<text x="1616.2" y="519.1" font-size="9.33" fill="#fff" textLength="32.5" lengthAdjust="spacingAndGlyphs" stroke="#fff" stroke-width="0.2">26232.3</text>
<text x="1616.2" y="533.1" font-size="9.33" fill="#fff" textLength="32.5" lengthAdjust="spacingAndGlyphs" stroke="#fff" stroke-width="0.2">26146.0</text>
<text x="1616.2" y="553.1" font-size="9.33" fill="#fff" textLength="32.5" lengthAdjust="spacingAndGlyphs" stroke="#fff" stroke-width="0.2">26013.9</text>
<text x="1616.2" y="571.1" font-size="9.33" fill="#fff" textLength="32.5" lengthAdjust="spacingAndGlyphs" stroke="#fff" stroke-width="0.2">25898.2</text>
<rect x="0" y="35" width="1" height="1" fill="#000"/>
<text x="6.3" y="37" font-size="9.33" fill="#000" textLength="187.7" lengthAdjust="spacingAndGlyphs" stroke="#000" stroke-width="0.2">HK50-,H4&#160;&#160;26278.5 26356.0 26146.0 26146.0</text>
<clipPath id="c2"><rect x="0" y="581" width="1610" height="169"/></clipPath>
<g clip-path="url(#c2)" shape-rendering="crispEdges">
<rect x="7" y="635" width="1" height="15" fill="#c0c0c0"/>
<rect x="15" y="633" width="1" height="17" fill="#c0c0c0"/>
<rect x="23" y="632" width="1" height="18" fill="#c0c0c0"/>
<rect x="31" y="630" width="1" height="20" fill="#c0c0c0"/>
<rect x="39" y="628" width="1" height="22" fill="#c0c0c0"/>
<rect x="47" y="622" width="1" height="28" fill="#c0c0c0"/>
<rect x="55" y="616" width="1" height="34" fill="#c0c0c0"/>
<rect x="63" y="611" width="1" height="39" fill="#c0c0c0"/>
<rect x="71" y="607" width="1" height="43" fill="#c0c0c0"/>
<rect x="79" y="605" width="1" height="45" fill="#c0c0c0"/>
<rect x="87" y="603" width="1" height="47" fill="#c0c0c0"/>
<rect x="95" y="604" width="1" height="46" fill="#c0c0c0"/>
<rect x="103" y="602" width="1" height="48" fill="#c0c0c0"/>
<rect x="111" y="602" width="1" height="48" fill="#c0c0c0"/>
<rect x="119" y="605" width="1" height="45" fill="#c0c0c0"/>
<rect x="127" y="614" width="1" height="36" fill="#c0c0c0"/>
<rect x="135" y="622" width="1" height="28" fill="#c0c0c0"/>
<rect x="143" y="630" width="1" height="20" fill="#c0c0c0"/>
<rect x="151" y="635" width="1" height="15" fill="#c0c0c0"/>
<rect x="159" y="645" width="1" height="5" fill="#c0c0c0"/>
<rect x="167" y="649" width="1" height="4" fill="#c0c0c0"/>
<rect x="175" y="649" width="1" height="14" fill="#c0c0c0"/>
<rect x="183" y="649" width="1" height="20" fill="#c0c0c0"/>
<rect x="191" y="649" width="1" height="25" fill="#c0c0c0"/>
<rect x="199" y="649" width="1" height="29" fill="#c0c0c0"/>
<rect x="207" y="649" width="1" height="28" fill="#c0c0c0"/>
<rect x="215" y="649" width="1" height="26" fill="#c0c0c0"/>
<rect x="223" y="649" width="1" height="21" fill="#c0c0c0"/>
<rect x="231" y="649" width="1" height="15" fill="#c0c0c0"/>
<rect x="239" y="649" width="1" height="13" fill="#c0c0c0"/>
<rect x="247" y="649" width="1" height="12" fill="#c0c0c0"/>
<rect x="255" y="649" width="1" height="15" fill="#c0c0c0"/>
<rect x="263" y="649" width="1" height="18" fill="#c0c0c0"/>
<rect x="271" y="649" width="1" height="19" fill="#c0c0c0"/>
<rect x="279" y="649" width="1" height="17" fill="#c0c0c0"/>
<rect x="287" y="649" width="1" height="11" fill="#c0c0c0"/>
<rect x="295" y="649" width="1" height="7" fill="#c0c0c0"/>
<rect x="303" y="649" width="1" height="3" fill="#c0c0c0"/>
<rect x="311" y="649" width="1" height="2" fill="#c0c0c0"/>
<rect x="319" y="649" width="1" height="1" fill="#c0c0c0"/>
<rect x="327" y="647" width="1" height="3" fill="#c0c0c0"/>
<rect x="335" y="646" width="1" height="4" fill="#c0c0c0"/>
<rect x="343" y="647" width="1" height="3" fill="#c0c0c0"/>
<rect x="351" y="649" width="1" height="3" fill="#c0c0c0"/>
<rect x="359" y="649" width="1" height="9" fill="#c0c0c0"/>
<rect x="367" y="649" width="1" height="12" fill="#c0c0c0"/>
<rect x="375" y="649" width="1" height="13" fill="#c0c0c0"/>
<rect x="383" y="649" width="1" height="15" fill="#c0c0c0"/>
<rect x="391" y="649" width="1" height="17" fill="#c0c0c0"/>
<rect x="399" y="649" width="1" height="22" fill="#c0c0c0"/>
<rect x="407" y="649" width="1" height="27" fill="#c0c0c0"/>
<rect x="415" y="649" width="1" height="28" fill="#c0c0c0"/>
<rect x="423" y="649" width="1" height="28" fill="#c0c0c0"/>
<rect x="431" y="649" width="1" height="26" fill="#c0c0c0"/>
<rect x="439" y="649" width="1" height="22" fill="#c0c0c0"/>
<rect x="447" y="649" width="1" height="19" fill="#c0c0c0"/>
<rect x="455" y="649" width="1" height="17" fill="#c0c0c0"/>
<rect x="463" y="649" width="1" height="15" fill="#c0c0c0"/>
<rect x="471" y="649" width="1" height="14" fill="#c0c0c0"/>
<rect x="479" y="649" width="1" height="12" fill="#c0c0c0"/>
<rect x="487" y="649" width="1" height="8" fill="#c0c0c0"/>
<rect x="495" y="649" width="1" height="1" fill="#c0c0c0"/>
<rect x="503" y="645" width="1" height="5" fill="#c0c0c0"/>
<rect x="511" y="634" width="1" height="16" fill="#c0c0c0"/>
<rect x="519" y="623" width="1" height="27" fill="#c0c0c0"/>
<rect x="527" y="617" width="1" height="33" fill="#c0c0c0"/>
<rect x="535" y="612" width="1" height="38" fill="#c0c0c0"/>
<rect x="543" y="606" width="1" height="44" fill="#c0c0c0"/>
<rect x="551" y="602" width="1" height="48" fill="#c0c0c0"/>
<rect x="559" y="598" width="1" height="52" fill="#c0c0c0"/>
<rect x="567" y="596" width="1" height="54" fill="#c0c0c0"/>
<rect x="575" y="596" width="1" height="54" fill="#c0c0c0"/>
<rect x="583" y="597" width="1" height="53" fill="#c0c0c0"/>
<rect x="591" y="596" width="1" height="54" fill="#c0c0c0"/>
<rect x="599" y="596" width="1" height="54" fill="#c0c0c0"/>
<rect x="607" y="597" width="1" height="53" fill="#c0c0c0"/>
<rect x="615" y="599" width="1" height="51" fill="#c0c0c0"/>
<rect x="623" y="600" width="1" height="50" fill="#c0c0c0"/>
<rect x="631" y="597" width="1" height="53" fill="#c0c0c0"/>
<rect x="639" y="595" width="1" height="55" fill="#c0c0c0"/>
<rect x="647" y="592" width="1" height="58" fill="#c0c0c0"/>
<rect x="655" y="591" width="1" height="59" fill="#c0c0c0"/>
<rect x="663" y="593" width="1" height="57" fill="#c0c0c0"/>
<rect x="671" y="591" width="1" height="59" fill="#c0c0c0"/>
<rect x="679" y="590" width="1" height="60" fill="#c0c0c0"/>
<rect x="687" y="591" width="1" height="59" fill="#c0c0c0"/>
<rect x="695" y="593" width="1" height="57" fill="#c0c0c0"/>
<rect x="703" y="597" width="1" height="53" fill="#c0c0c0"/>
<rect x="711" y="603" width="1" height="47" fill="#c0c0c0"/>
<rect x="719" y="604" width="1" height="46" fill="#c0c0c0"/>
<rect x="727" y="607" width="1" height="43" fill="#c0c0c0"/>
<rect x="735" y="612" width="1" height="38" fill="#c0c0c0"/>
<rect x="743" y="618" width="1" height="32" fill="#c0c0c0"/>
<rect x="751" y="618" width="1" height="32" fill="#c0c0c0"/>
<rect x="759" y="616" width="1" height="34" fill="#c0c0c0"/>
<rect x="767" y="615" width="1" height="35" fill="#c0c0c0"/>
<rect x="775" y="614" width="1" height="36" fill="#c0c0c0"/>
<rect x="783" y="611" width="1" height="39" fill="#c0c0c0"/>
<rect x="791" y="608" width="1" height="42" fill="#c0c0c0"/>
<rect x="799" y="606" width="1" height="44" fill="#c0c0c0"/>
<rect x="807" y="607" width="1" height="43" fill="#c0c0c0"/>
<rect x="815" y="610" width="1" height="40" fill="#c0c0c0"/>
<rect x="823" y="612" width="1" height="38" fill="#c0c0c0"/>
<rect x="831" y="613" width="1" height="37" fill="#c0c0c0"/>
<rect x="839" y="613" width="1" height="37" fill="#c0c0c0"/>
<rect x="847" y="614" width="1" height="36" fill="#c0c0c0"/>
<rect x="855" y="613" width="1" height="37" fill="#c0c0c0"/>
<rect x="863" y="614" width="1" height="36" fill="#c0c0c0"/>
<rect x="871" y="618" width="1" height="32" fill="#c0c0c0"/>
<rect x="879" y="629" width="1" height="21" fill="#c0c0c0"/>
<rect x="887" y="640" width="1" height="10" fill="#c0c0c0"/>
<rect x="895" y="646" width="1" height="4" fill="#c0c0c0"/>
<rect x="903" y="649" width="1" height="1" fill="#c0c0c0"/>
<rect x="911" y="649" width="1" height="7" fill="#c0c0c0"/>
<rect x="919" y="649" width="1" height="14" fill="#c0c0c0"/>
<rect x="927" y="649" width="1" height="18" fill="#c0c0c0"/>
<rect x="935" y="649" width="1" height="29" fill="#c0c0c0"/>
<rect x="943" y="649" width="1" height="40" fill="#c0c0c0"/>
<rect x="951" y="649" width="1" height="53" fill="#c0c0c0"/>
<rect x="959" y="649" width="1" height="67" fill="#c0c0c0"/>
<rect x="967" y="649" width="1" height="75" fill="#c0c0c0"/>
<rect x="975" y="649" width="1" height="83" fill="#c0c0c0"/>
<rect x="983" y="649" width="1" height="89" fill="#c0c0c0"/>
<rect x="991" y="649" width="1" height="93" fill="#c0c0c0"/>
<rect x="999" y="649" width="1" height="90" fill="#c0c0c0"/>
<rect x="1007" y="649" width="1" height="85" fill="#c0c0c0"/>
<rect x="1015" y="649" width="1" height="80" fill="#c0c0c0"/>
<rect x="1023" y="649" width="1" height="75" fill="#c0c0c0"/>
<rect x="1031" y="649" width="1" height="64" fill="#c0c0c0"/>
<rect x="1039" y="649" width="1" height="53" fill="#c0c0c0"/>
<rect x="1047" y="649" width="1" height="46" fill="#c0c0c0"/>
<rect x="1055" y="649" width="1" height="39" fill="#c0c0c0"/>
<rect x="1063" y="649" width="1" height="35" fill="#c0c0c0"/>
<rect x="1071" y="649" width="1" height="32" fill="#c0c0c0"/>
<rect x="1079" y="649" width="1" height="24" fill="#c0c0c0"/>
<rect x="1087" y="649" width="1" height="16" fill="#c0c0c0"/>
<rect x="1095" y="649" width="1" height="9" fill="#c0c0c0"/>
<rect x="1103" y="649" width="1" height="2" fill="#c0c0c0"/>
<rect x="1111" y="647" width="1" height="3" fill="#c0c0c0"/>
<rect x="1119" y="644" width="1" height="6" fill="#c0c0c0"/>
<rect x="1127" y="640" width="1" height="10" fill="#c0c0c0"/>
<rect x="1135" y="638" width="1" height="12" fill="#c0c0c0"/>
<rect x="1143" y="634" width="1" height="16" fill="#c0c0c0"/>
<rect x="1151" y="632" width="1" height="18" fill="#c0c0c0"/>
<rect x="1159" y="635" width="1" height="15" fill="#c0c0c0"/>
<rect x="1167" y="639" width="1" height="11" fill="#c0c0c0"/>
<rect x="1175" y="639" width="1" height="11" fill="#c0c0c0"/>
<rect x="1183" y="640" width="1" height="10" fill="#c0c0c0"/>
<rect x="1191" y="644" width="1" height="6" fill="#c0c0c0"/>
<rect x="1199" y="646" width="1" height="4" fill="#c0c0c0"/>
<rect x="1207" y="649" width="1" height="1" fill="#c0c0c0"/>
<rect x="1215" y="649" width="1" height="3" fill="#c0c0c0"/>
<rect x="1223" y="649" width="1" height="11" fill="#c0c0c0"/>
<rect x="1231" y="649" width="1" height="19" fill="#c0c0c0"/>
<rect x="1239" y="649" width="1" height="24" fill="#c0c0c0"/>
<rect x="1247" y="649" width="1" height="27" fill="#c0c0c0"/>
<rect x="1255" y="649" width="1" height="31" fill="#c0c0c0"/>
<rect x="1263" y="649" width="1" height="35" fill="#c0c0c0"/>
<rect x="1271" y="649" width="1" height="38" fill="#c0c0c0"/>
<rect x="1279" y="649" width="1" height="38" fill="#c0c0c0"/>
<rect x="1287" y="649" width="1" height="45" fill="#c0c0c0"/>
<rect x="1295" y="649" width="1" height="49" fill="#c0c0c0"/>
<rect x="1303" y="649" width="1" height="49" fill="#c0c0c0"/>
<rect x="1311" y="649" width="1" height="49" fill="#c0c0c0"/>
<rect x="1319" y="649" width="1" height="47" fill="#c0c0c0"/>
<rect x="1327" y="649" width="1" height="46" fill="#c0c0c0"/>
<rect x="1335" y="649" width="1" height="47" fill="#c0c0c0"/>
<rect x="1343" y="649" width="1" height="47" fill="#c0c0c0"/>
<polyline points="3.5,630.5 20.5,631.5 40.5,630.1 60.5,627.5 70.5,623.5 80.5,619.1 90.5,615.1 100.5,611.5 112.5,607.1 120.5,605.5 136.5,606.1 148.5,610.7 160.5,617.7 168.5,623.1 180.5,634.1 190.5,643.1 200.5,652.1 208.5,659.2 216.5,663.2 226.5,668.6 240.5,670.6 250.5,670.0 264.5,668.8 280.5,666.2 292.5,664.2 304.5,661.6 316.5,659.2 328.5,656.8 332.5,655.7 342.5,653.5 350.5,651.5 359.5,650.5 368.5,651.5 376.5,652.1 384.5,654.5 396.5,657.5 406.5,662.2 416.5,666.2 426.5,668.6 436.5,671.2 448.5,672.2 464.5,672.2 472.5,670.6 484.5,668.2 496.5,663.6 508.5,657.5 520.5,650.1 532.5,642.1 544.5,633.1 556.5,622.1 568.5,613.1 580.5,605.5 592.5,600.6 604.5,598.4 615.0,596.2 633.0,596.2 649.1,595.8 664.5,595.4 674.5,594.0 686.5,592.6 714.5,592.6 724.5,595.0 736.5,598.6 748.5,603.7 760.5,607.1 770.5,610.5 784.5,612.3 804.5,612.5 818.5,610.7 844.5,610.5 868.5,611.1 880.5,615.1 892.5,620.1 904.5,626.5 916.5,634.1 928.5,643.1 940.5,654.1 952.5,667.2 964.5,680.2 976.5,694.2 988.5,707.2 996.5,715.3 1006.5,723.3 1016.5,728.3 1026.5,731.3 1036.5,730.3 1048.5,723.7 1060.5,715.3 1072.5,705.2 1084.5,695.2 1096.5,683.8 1108.5,674.2 1120.5,665.2 1132.5,657.1 1144.5,648.5 1156.5,642.5 1166.5,639.5 1180.5,637.7 1196.5,637.7 1212.5,640.1 1224.5,644.5 1236.5,650.5 1248.5,657.1 1260.5,663.2 1272.5,670.2 1284.5,677.2 1296.5,683.6 1308.5,688.2 1320.5,691.6 1328.5,693.6 1343.5,695.3" fill="none" stroke="#ff0000" stroke-width="1" stroke-dasharray="3 3"/>
</g>
<text x="-4.8" y="593.2" font-size="9.33" fill="#000" textLength="133.6" lengthAdjust="spacingAndGlyphs" stroke="#000" stroke-width="0.2">MACD(12,26,9) -292.02 -291.63</text>
<g shape-rendering="crispEdges">
<rect x="1611" y="582" width="2" height="1" fill="#000"/>
<rect x="1611" y="649" width="2" height="1" fill="#000"/>
<rect x="1611" y="749" width="2" height="1" fill="#000"/>
</g>
<text x="1614.4" y="590.6" font-size="9.33" fill="#000" textLength="27" lengthAdjust="spacingAndGlyphs" stroke="#000" stroke-width="0.2">427.71</text>
<text x="1614.4" y="653" font-size="9.33" fill="#000" textLength="17.4" lengthAdjust="spacingAndGlyphs" stroke="#000" stroke-width="0.2">0.00</text>
<text x="1614.4" y="747" font-size="9.33" fill="#000" textLength="30.6" lengthAdjust="spacingAndGlyphs" stroke="#000" stroke-width="0.2">-636.02</text>
<clipPath id="c3"><rect x="0" y="753" width="1610" height="173"/></clipPath>
<g clip-path="url(#c3)" shape-rendering="crispEdges">
<line x1="2" y1="788.5" x2="1610" y2="788.5" stroke="#c0c0c0" stroke-width="1" stroke-dasharray="3 3"/>
<line x1="2" y1="839.5" x2="1610" y2="839.5" stroke="#c0c0c0" stroke-width="1" stroke-dasharray="3 3"/>
<line x1="2" y1="900.5" x2="1610" y2="900.5" stroke="#c0c0c0" stroke-width="1" stroke-dasharray="3 3"/>
<polyline points="0.5,834.5 2.5,835.1 7.5,840.2 15.5,822.5 23.5,822.5 31.5,819.1 39.5,815.1 47.5,802.5 55.5,799.5 63.5,796.3 71.5,800.5 79.5,799.5 87.5,798.1 95.5,809.1 103.5,802.5 111.5,809.1 119.5,813.1 127.5,847.2 135.5,849.2 143.5,851.6 151.5,849.2 159.5,864.8 167.5,867.2 175.5,873.2 183.5,870.8 191.5,867.2 199.5,871.2 207.5,851.2 215.5,848.2 223.5,835.7 231.5,831.1 239.5,838.1 247.5,843.2 255.5,856.6 263.5,856.6 271.5,851.2 279.5,847.2 287.5,828.5 295.5,831.1 303.5,833.1 311.5,833.1 319.5,831.7 327.5,831.1 335.5,833.7 343.5,840.2 351.5,859.8 359.5,862.2 367.5,853.2 375.5,854.2 383.5,855.2 391.5,858.2 399.5,869.2 407.5,870.6 415.5,864.2 423.5,858.6 431.5,846.2 439.5,842.2 447.5,842.2 455.5,842.2 463.5,842.6 471.5,848.2 479.5,839.2 487.5,832.1 495.5,814.1 503.5,817.5 511.5,799.5 519.5,796.1 527.5,804.1 535.5,804.1 543.5,797.1 551.5,799.5 559.5,798.1 567.5,796.5 575.5,809.1 583.5,807.1 591.5,803.1 599.5,803.1 607.5,805.1 615.5,810.1 623.5,806.1 631.5,795.5 639.5,795.5 647.5,790.5 655.5,797.1 663.5,807.5 671.5,799.5 679.5,798.1 687.5,802.1 695.5,810.1 703.5,819.1 711.5,828.1 719.5,817.1 727.5,820.7 735.5,834.1 743.5,838.8 751.5,822.1 759.5,817.7 767.5,816.1 775.5,815.1 783.5,807.5 791.5,806.1 799.5,807.5 807.5,817.1 815.5,823.1 823.5,821.1 831.5,819.1 839.5,815.1 847.5,815.1 855.5,808.1 863.5,817.1 871.5,834.1 879.5,858.2 887.5,865.2 895.5,851.2 903.5,846.6 911.5,860.2 919.5,861.6 927.5,858.2 935.5,874.2 943.5,877.6 951.5,884.2 959.5,888.2 967.5,882.2 975.5,886.2 983.5,884.2 991.5,885.2 999.5,869.2 1007.5,860.2 1015.5,861.2 1023.5,861.2 1031.5,841.2 1039.5,837.1 1047.5,843.2 1055.5,841.6 1063.5,846.2 1071.5,846.2 1079.5,831.5 1087.5,830.1 1095.5,826.1 1103.5,824.1 1111.5,827.1 1119.5,829.1 1127.5,823.5 1135.5,827.1 1143.5,822.1 1151.5,824.1 1159.5,840.2 1167.5,843.2 1175.5,837.1 1183.5,837.1 1191.5,848.2 1199.5,843.2 1207.5,847.2 1215.5,852.2 1223.5,866.2 1231.5,869.6 1239.5,866.2 1247.5,864.2 1255.5,868.2 1263.5,870.2 1271.5,873.6 1279.5,860.2 1287.5,876.2 1295.5,872.2 1303.5,863.2 1311.5,865.2 1319.5,856.3 1327.5,861.3 1335.5,861.4 1343.5,865.6" fill="none" stroke="#1e90ff" stroke-width="1"/>
</g>
<text x="-5.1" y="765.2" font-size="9.33" fill="#000" textLength="67.8" lengthAdjust="spacingAndGlyphs" stroke="#000" stroke-width="0.2">RSI(14) 34.7718</text>
<g shape-rendering="crispEdges">
<rect x="1611" y="753" width="2" height="1" fill="#000"/>
<rect x="1611" y="925" width="2" height="1" fill="#000"/>
</g>
<text x="1613.8" y="763" font-size="9.33" fill="#000" textLength="15.2" lengthAdjust="spacingAndGlyphs" stroke="#000" stroke-width="0.2">100</text>
<text x="1613.8" y="791.4" font-size="9.33" fill="#000" textLength="10" lengthAdjust="spacingAndGlyphs" stroke="#000" stroke-width="0.2">80</text>
<text x="1613.8" y="842.4" font-size="9.33" fill="#000" textLength="10" lengthAdjust="spacingAndGlyphs" stroke="#000" stroke-width="0.2">50</text>
<text x="1613.8" y="903.4" font-size="9.33" fill="#000" textLength="10" lengthAdjust="spacingAndGlyphs" stroke="#000" stroke-width="0.2">15</text>
<text x="1613.8" y="923" font-size="9.33" fill="#000" textLength="5" lengthAdjust="spacingAndGlyphs" stroke="#000" stroke-width="0.2">0</text>
<g shape-rendering="crispEdges">
<rect x="55" y="927" width="1" height="3" fill="#000"/>
<rect x="119" y="927" width="1" height="3" fill="#000"/>
<rect x="183" y="927" width="1" height="3" fill="#000"/>
<rect x="247" y="927" width="1" height="3" fill="#000"/>
<rect x="311" y="927" width="1" height="3" fill="#000"/>
<rect x="375" y="927" width="1" height="3" fill="#000"/>
<rect x="439" y="927" width="1" height="3" fill="#000"/>
<rect x="503" y="927" width="1" height="3" fill="#000"/>
<rect x="567" y="927" width="1" height="3" fill="#000"/>
<rect x="631" y="927" width="1" height="3" fill="#000"/>
<rect x="695" y="927" width="1" height="3" fill="#000"/>
<rect x="759" y="927" width="1" height="3" fill="#000"/>
<rect x="823" y="927" width="1" height="3" fill="#000"/>
<rect x="887" y="927" width="1" height="3" fill="#000"/>
<rect x="951" y="927" width="1" height="3" fill="#000"/>
<rect x="1015" y="927" width="1" height="3" fill="#000"/>
<rect x="1079" y="927" width="1" height="3" fill="#000"/>
<rect x="1143" y="927" width="1" height="3" fill="#000"/>
<rect x="1207" y="927" width="1" height="3" fill="#000"/>
<rect x="1271" y="927" width="1" height="3" fill="#000"/>
<rect x="1335" y="927" width="1" height="3" fill="#000"/>
</g>
<text x="-10" y="938.6" font-size="9.33" fill="#000" textLength="51" lengthAdjust="spacingAndGlyphs" stroke="#000" stroke-width="0.2">30 Oct 2019</text>
<text x="54" y="938.6" font-size="9.33" fill="#000" textLength="51.7" lengthAdjust="spacingAndGlyphs" stroke="#000" stroke-width="0.2">4 Nov 05:00</text>
<text x="118" y="938.6" font-size="9.33" fill="#000" textLength="51.7" lengthAdjust="spacingAndGlyphs" stroke="#000" stroke-width="0.2">8 Nov 05:00</text>
<text x="182" y="938.6" font-size="9.33" fill="#000" textLength="55.8" lengthAdjust="spacingAndGlyphs" stroke="#000" stroke-width="0.2">14 Nov 05:00</text>
<text x="246" y="938.6" font-size="9.33" fill="#000" textLength="55.8" lengthAdjust="spacingAndGlyphs" stroke="#000" stroke-width="0.2">20 Nov 05:00</text>
<text x="310" y="938.6" font-size="9.33" fill="#000" textLength="55.8" lengthAdjust="spacingAndGlyphs" stroke="#000" stroke-width="0.2">26 Nov 05:00</text>
<text x="374" y="938.6" font-size="9.33" fill="#000" textLength="49.3" lengthAdjust="spacingAndGlyphs" stroke="#000" stroke-width="0.2">2 Dec 05:00</text>
<text x="438" y="938.6" font-size="9.33" fill="#000" textLength="49.3" lengthAdjust="spacingAndGlyphs" stroke="#000" stroke-width="0.2">6 Dec 05:00</text>
<text x="502" y="938.6" font-size="9.33" fill="#000" textLength="53.9" lengthAdjust="spacingAndGlyphs" stroke="#000" stroke-width="0.2">12 Dec 05:00</text>
<text x="566" y="938.6" font-size="9.33" fill="#000" textLength="53.9" lengthAdjust="spacingAndGlyphs" stroke="#000" stroke-width="0.2">18 Dec 05:00</text>
<text x="630" y="938.6" font-size="9.33" fill="#000" textLength="53.9" lengthAdjust="spacingAndGlyphs" stroke="#000" stroke-width="0.2">27 Dec 01:15</text>
<text x="694" y="938.6" font-size="9.33" fill="#000" textLength="47.7" lengthAdjust="spacingAndGlyphs" stroke="#000" stroke-width="0.2">3 Jan 05:00</text>
<text x="758" y="938.6" font-size="9.33" fill="#000" textLength="47.7" lengthAdjust="spacingAndGlyphs" stroke="#000" stroke-width="0.2">9 Jan 05:00</text>
<text x="822" y="938.6" font-size="9.33" fill="#000" textLength="52.1" lengthAdjust="spacingAndGlyphs" stroke="#000" stroke-width="0.2">15 Jan 05:00</text>
<text x="886" y="938.6" font-size="9.33" fill="#000" textLength="52.1" lengthAdjust="spacingAndGlyphs" stroke="#000" stroke-width="0.2">21 Jan 05:00</text>
<text x="950" y="938.6" font-size="9.33" fill="#000" textLength="52.1" lengthAdjust="spacingAndGlyphs" stroke="#000" stroke-width="0.2">30 Jan 01:15</text>
<text x="1014" y="938.6" font-size="9.33" fill="#000" textLength="50.1" lengthAdjust="spacingAndGlyphs" stroke="#000" stroke-width="0.2">5 Feb 01:15</text>
<text x="1078" y="938.6" font-size="9.33" fill="#000" textLength="54.7" lengthAdjust="spacingAndGlyphs" stroke="#000" stroke-width="0.2">11 Feb 01:15</text>
<text x="1142" y="938.6" font-size="9.33" fill="#000" textLength="54.7" lengthAdjust="spacingAndGlyphs" stroke="#000" stroke-width="0.2">17 Feb 01:15</text>
<text x="1206" y="938.6" font-size="9.33" fill="#000" textLength="54.7" lengthAdjust="spacingAndGlyphs" stroke="#000" stroke-width="0.2">21 Feb 01:15</text>
<text x="1270" y="938.6" font-size="9.33" fill="#000" textLength="54.7" lengthAdjust="spacingAndGlyphs" stroke="#000" stroke-width="0.2">27 Feb 01:15</text>
<text x="1334" y="938.6" font-size="9.33" fill="#000" textLength="49.9" lengthAdjust="spacingAndGlyphs" stroke="#000" stroke-width="0.2">4 Mar 01:15</text>
<g shape-rendering="crispEdges">
<rect x="0" y="0" width="1657" height="21" fill="#f0f0f0"/>
<rect x="0" y="21" width="1657" height="1" fill="#a0a0a0"/>
<rect x="0" y="22" width="1657" height="1" fill="#696969"/>
<rect x="0" y="23" width="1657" height="2" fill="#ffffff"/>
<rect x="1656" y="23" width="1" height="921" fill="#e3e3e3"/>
</g>
<text x="-0.8" y="12.6" font-size="12" fill="#000" textLength="37.5" lengthAdjust="spacingAndGlyphs" font-weight="500">新订单</text>
<text x="152" y="12.6" font-size="12" fill="#000" textLength="48.8" lengthAdjust="spacingAndGlyphs" font-weight="500">自动交易</text>
<g shape-rendering="crispEdges">
<rect x="207" y="1" width="1" height="18" fill="#a0a0a0"/>
<rect x="245" y="1" width="1" height="18" fill="#a0a0a0"/>
<rect x="302" y="1" width="1" height="18" fill="#a0a0a0"/>
<rect x="392" y="1" width="1" height="18" fill="#a0a0a0"/>
<rect x="425" y="1" width="1" height="18" fill="#a0a0a0"/>
<rect x="454" y="1" width="1" height="18" fill="#a0a0a0"/>
<rect x="575" y="1" width="1" height="18" fill="#a0a0a0"/>
<rect x="585" y="1" width="1" height="18" fill="#a0a0a0"/>
<rect x="642" y="1" width="1" height="18" fill="#a0a0a0"/>
<rect x="881" y="1" width="1" height="18" fill="#a0a0a0"/>
<rect x="1031" y="1" width="1" height="18" fill="#a0a0a0"/>
<rect x="1142" y="1" width="1" height="18" fill="#a0a0a0"/>
<rect x="211" y="2" width="3" height="1" fill="#b4b4b4"/>
<rect x="211" y="4" width="3" height="1" fill="#b4b4b4"/>
<rect x="211" y="6" width="3" height="1" fill="#b4b4b4"/>
<rect x="211" y="8" width="3" height="1" fill="#b4b4b4"/>
<rect x="211" y="10" width="3" height="1" fill="#b4b4b4"/>
<rect x="211" y="12" width="3" height="1" fill="#b4b4b4"/>
<rect x="211" y="14" width="3" height="1" fill="#b4b4b4"/>
<rect x="211" y="16" width="3" height="1" fill="#b4b4b4"/>
<rect x="579" y="2" width="3" height="1" fill="#b4b4b4"/>
<rect x="579" y="4" width="3" height="1" fill="#b4b4b4"/>
<rect x="579" y="6" width="3" height="1" fill="#b4b4b4"/>
<rect x="579" y="8" width="3" height="1" fill="#b4b4b4"/>
<rect x="579" y="10" width="3" height="1" fill="#b4b4b4"/>
<rect x="579" y="12" width="3" height="1" fill="#b4b4b4"/>
<rect x="579" y="14" width="3" height="1" fill="#b4b4b4"/>
<rect x="579" y="16" width="3" height="1" fill="#b4b4b4"/>
<rect x="885" y="2" width="3" height="1" fill="#b4b4b4"/>
<rect x="885" y="4" width="3" height="1" fill="#b4b4b4"/>
<rect x="885" y="6" width="3" height="1" fill="#b4b4b4"/>
<rect x="885" y="8" width="3" height="1" fill="#b4b4b4"/>
<rect x="885" y="10" width="3" height="1" fill="#b4b4b4"/>
<rect x="885" y="12" width="3" height="1" fill="#b4b4b4"/>
<rect x="885" y="14" width="3" height="1" fill="#b4b4b4"/>
<rect x="885" y="16" width="3" height="1" fill="#b4b4b4"/>
<rect x="246" y="0" width="24" height="20" fill="#f8f8f8"/>
<rect x="393" y="0" width="28" height="20" fill="#f6f6f6"/>
<rect x="426" y="0" width="24" height="20" fill="#f6f6f6"/>
<rect x="586" y="0" width="24" height="20" fill="#f8f8f8"/>
<rect x="1032" y="0" width="24" height="20" fill="#f8f8f8"/>
</g>
<defs><linearGradient id="gt" x1="0" y1="0" x2="1" y2="1"><stop offset="0" stop-color="#fbe678"/><stop offset="0.55" stop-color="#e8b428"/><stop offset="1" stop-color="#c88c18"/></linearGradient><linearGradient id="gc" x1="0" y1="0" x2="0" y2="1"><stop offset="0" stop-color="#ffffff"/><stop offset="1" stop-color="#b4c4de"/></linearGradient></defs>
<g><polygon points="49.5,12.5 57.5,17.2 64.3,10.8 64,9.2 57,15 48.2,10.2" fill="#a06c14"/><polygon points="53.5,2 64,9.3 57,15.5 48,10.6" fill="url(#gt)" stroke="#b88420" stroke-width="0.8"/><path d="M53.5,2.4 L49.2,9.8 L51,10.6 L55,3.4 Z" fill="#fdf0a0"/></g>
<g><rect x="78.5" y="1.5" width="11" height="10" fill="#58a8f4" stroke="#2a74d0" stroke-width="1"/><rect x="78.5" y="1.5" width="3.5" height="10" fill="#1e86f0"/><rect x="83.5" y="4" width="5" height="1.3" fill="#e8f4ff"/><rect x="83.5" y="6.6" width="4" height="1.1" fill="#e8f4ff"/><path d="M79.3,16.6 a2.9,2.9 0 0 1 -0.2,-5.7 a3.4,3.4 0 0 1 6.2,-1 a2.8,2.8 0 0 1 4.4,1.6 a2.6,2.6 0 0 1 -0.5,5.1 z" fill="url(#gc)" stroke="#5c7cb8" stroke-width="0.9"/></g>
<g fill="none"><path d="M112,9 L112,16.8 A7.8,7.8 0 0 0 119.8,9 Z" fill="#4caf50" opacity="0.5"/><circle cx="112" cy="9" r="7.2" stroke="#a4b8dc" stroke-width="1.1"/><circle cx="112" cy="9" r="4.4" stroke="#7c9cd4" stroke-width="1.2"/><path d="M112,9.5 V17" stroke="#30a838" stroke-width="1.6"/><circle cx="112" cy="8.8" r="1.7" fill="#2a62d0"/></g>
<g><polygon points="133,7.5 146,7.5 141,16.5 138,16.5" fill="#f2cf4a" stroke="#c49a1c" stroke-width="0.8"/><ellipse cx="139.5" cy="6" rx="7.8" ry="2.6" fill="#5b9bd8"/><ellipse cx="139.5" cy="4" rx="4.2" ry="3" fill="#5b9bd8"/><circle cx="144" cy="13" r="3.8" fill="#e02020" stroke="#a00000" stroke-width="0.6"/><rect x="142.5" y="11.5" width="3" height="3" fill="#fff"/></g>
<g shape-rendering="crispEdges" fill="#505050"><rect x="225" y="4" width="1" height="13"/><rect x="223" y="14" width="14" height="1"/><rect x="224" y="5" width="3" height="1"/><rect x="235" y="13" width="1" height="3"/></g>
<g shape-rendering="crispEdges" fill="#2e9e3a"><rect x="231" y="5" width="1" height="8"/><rect x="232" y="5" width="2" height="1"/><rect x="229" y="11" width="2" height="1"/></g>
<g shape-rendering="crispEdges" fill="#505050"><rect x="253" y="4" width="1" height="13"/><rect x="251" y="14" width="14" height="1"/><rect x="252" y="5" width="3" height="1"/><rect x="263" y="13" width="1" height="3"/></g>
<g shape-rendering="crispEdges"><rect x="259" y="1" width="1" height="12" fill="#207a28"/><rect x="257" y="3" width="5" height="9" fill="#207a28"/><rect x="258" y="4" width="3" height="7" fill="#30d048"/></g>
<g shape-rendering="crispEdges" fill="#505050"><rect x="281" y="4" width="1" height="13"/><rect x="279" y="14" width="14" height="1"/><rect x="280" y="5" width="3" height="1"/><rect x="291" y="13" width="1" height="3"/></g>
<path d="M281,12 C284,5 288,4 292,10" fill="none" stroke="#2e9e3a" stroke-width="1.3"/>
<g><line x1="320" y1="10" x2="326" y2="16" stroke="#c8a030" stroke-width="3" stroke-linecap="round"/><circle cx="317" cy="7" r="5.3" fill="#cfe8fb" stroke="#5d9bd6" stroke-width="1.4"/><rect x="314" y="6.2" width="6" height="1.6" fill="#2f6fb8"/><rect x="316.2" y="4" width="1.6" height="6" fill="#2f6fb8"/></g>
<g><line x1="348" y1="10" x2="354" y2="16" stroke="#c8a030" stroke-width="3" stroke-linecap="round"/><circle cx="345" cy="7" r="5.3" fill="#cfe8fb" stroke="#5d9bd6" stroke-width="1.4"/><rect x="342" y="6.2" width="6" height="1.6" fill="#2f6fb8"/></g>
<g shape-rendering="crispEdges"><rect x="367" y="1" width="8" height="8" fill="#3fa52f"/><rect x="375" y="1" width="8" height="8" fill="#2a58c8"/><rect x="367" y="9" width="8" height="8" fill="#2a58c8"/><rect x="375" y="9" width="8" height="8" fill="#3fa52f"/><rect x="369" y="4" width="5" height="3" fill="#e8f4e8"/><rect x="377" y="4" width="5" height="3" fill="#e8eefc"/><rect x="369" y="12" width="5" height="3" fill="#e8eefc"/><rect x="377" y="12" width="5" height="3" fill="#e8f4e8"/></g>
<g shape-rendering="crispEdges" fill="#505050"><rect x="405" y="4" width="1" height="13"/><rect x="403" y="14" width="14" height="1"/><rect x="404" y="5" width="3" height="1"/><rect x="415" y="13" width="1" height="3"/></g>
<polygon points="410,6 410,12 414,9" fill="#40c040" stroke="#207a28" stroke-width="0.8"/>
<g shape-rendering="crispEdges" fill="#505050"><rect x="433" y="4" width="1" height="13"/><rect x="431" y="14" width="14" height="1"/><rect x="432" y="5" width="3" height="1"/><rect x="443" y="13" width="1" height="3"/></g>
<g shape-rendering="crispEdges"><rect x="439" y="3" width="1" height="10" fill="#2a58c8"/><rect x="441" y="8" width="4" height="1" fill="#d04010"/></g><polygon points="440.5,8.5 443,6.5 443,10.5" fill="#d04010"/>
<g><path d="M464.5,1.5 h6.5 l3,3 v9.5 h-9.5 z" fill="#ffffff" stroke="#808080" stroke-width="1"/><path d="M471,1.5 v3 h3" fill="none" stroke="#808080" stroke-width="0.8"/><path d="M470.5,4.5 c-2.5,-0.5 -2.5,2 -2.3,4 c0.2,2 0,3 2,3 M466.8,7.5 h3.4" fill="none" stroke="#404040" stroke-width="0.9"/><path d="M468.6,11.6 h4.2 v-4.2 h3 v4.2 h4.2 v3 h-4.2 v4.2 h-3 v-4.2 h-4.2 z" fill="#30d838" stroke="#0e8a14" stroke-width="0.9"/></g>
<defs><linearGradient id="gk" x1="0" y1="0" x2="0" y2="1"><stop offset="0" stop-color="#3a8cf0"/><stop offset="1" stop-color="#0c48b0"/></linearGradient></defs>
<g><circle cx="510" cy="9" r="7.6" fill="url(#gk)"/><circle cx="510" cy="9" r="5.3" fill="#f6f9ff"/><path d="M509.7,5.2 V9.3 H512.6" fill="none" stroke="#303030" stroke-width="1.1"/><g fill="#8090a8"><rect x="509.6" y="3.8" width="0.8" height="1"/><rect x="509.6" y="13.2" width="0.8" height="1"/><rect x="504.8" y="8.6" width="1" height="0.8"/><rect x="514.2" y="8.6" width="1" height="0.8"/></g></g>
<g shape-rendering="crispEdges"><rect x="541.5" y="2.5" width="15" height="13" fill="#fafcff" stroke="#3a78d0" stroke-width="1"/><rect x="541" y="2" width="16" height="2" fill="#4a8ce0"/><rect x="542" y="9" width="14" height="1" fill="#8aa8d8"/></g><polyline points="543,7.5 546,6.5 548,7.5 551,6 555,6.5" fill="none" stroke="#c03020" stroke-width="1"/><polyline points="543,13.5 546,12 548,13.5 551,11.5 555,13" fill="none" stroke="#20a030" stroke-width="1"/>
<polygon points="485.7,8 491.3,8 488.5,11" fill="#000"/>
<polygon points="524.7,8 530.3,8 527.5,11" fill="#000"/>
<polygon points="563.7,8 569.3,8 566.5,11" fill="#000"/>
<polygon points="869.7,8 875.3,8 872.5,11" fill="#000"/>
<polygon points="593,2 593,14 596,11.5 598.2,16 600,15.2 597.8,10.8 601.5,10.5" fill="#404040"/>
<g shape-rendering="crispEdges" fill="#404040"><rect x="625" y="2" width="1" height="15"/><rect x="618" y="9" width="15" height="1"/><rect x="625" y="9" width="1" height="1" fill="#f0f0f0"/></g>
<g shape-rendering="crispEdges" fill="#404040"><rect x="659" y="3" width="1" height="13"/><rect x="682" y="9" width="12" height="1"/></g>
<line x1="710" y1="16" x2="722" y2="4" stroke="#404040" stroke-width="1.1"/>
<g stroke="#404040" stroke-width="1" fill="none"><line x1="737" y1="12" x2="748" y2="3"/><line x1="739" y1="15" x2="750" y2="6"/><line x1="741" y1="6" x2="740" y2="14"/><line x1="744" y1="4" x2="743" y2="12"/><line x1="747" y1="2" x2="746" y2="10"/></g>
<text x="746.6" y="17.2" font-size="6.5" fill="#404040" font-weight="bold">E</text>
<g stroke="#404040" stroke-width="1" stroke-dasharray="1 1" shape-rendering="crispEdges"><line x1="765" y1="2.5" x2="778" y2="2.5"/><line x1="765" y1="5.5" x2="778" y2="5.5"/><line x1="765" y1="9.5" x2="778" y2="9.5"/><line x1="765" y1="13.5" x2="774" y2="13.5"/></g>
<text x="775" y="17.4" font-size="6.5" fill="#404040" font-weight="bold">F</text>
<text x="795.6" y="13.4" font-size="11.5" fill="#404040" textLength="8" lengthAdjust="spacingAndGlyphs">A</text>
<rect x="821.5" y="2.5" width="12" height="13" fill="none" stroke="#404040" stroke-width="1" stroke-dasharray="1 1" shape-rendering="crispEdges"/>
<text x="823.5" y="13.6" font-size="12" fill="#404040" textLength="8" lengthAdjust="spacingAndGlyphs" font-weight="bold">T</text>
<g fill="#404040"><polygon points="853,3 856.5,6.5 849.5,6.5"/><polygon points="860,15.5 863.5,12 856.5,12"/><polyline points="851,9.5 853.5,12 858.5,7" fill="none" stroke="#404040" stroke-width="1.4"/></g>
<text x="896.8" y="12.9" font-size="9.33" fill="#484848" textLength="12" lengthAdjust="spacingAndGlyphs">M1</text>
<text x="924.7" y="12.9" font-size="9.33" fill="#484848" textLength="12.4" lengthAdjust="spacingAndGlyphs">M5</text>
<text x="950.6" y="12.9" font-size="9.33" fill="#484848" textLength="17.7" lengthAdjust="spacingAndGlyphs">M15</text>
<text x="978.7" y="12.9" font-size="9.33" fill="#484848" textLength="17.5" lengthAdjust="spacingAndGlyphs">M30</text>
<text x="1009.8" y="12.9" font-size="9.33" fill="#484848" textLength="11.3" lengthAdjust="spacingAndGlyphs">H1</text>
<text x="1036.7" y="12.9" font-size="9.33" fill="#484848" textLength="12" lengthAdjust="spacingAndGlyphs">H4</text>
<text x="1065.8" y="12.9" font-size="9.33" fill="#484848" textLength="11.3" lengthAdjust="spacingAndGlyphs">D1</text>
<text x="1093.4" y="12.9" font-size="9.33" fill="#484848" textLength="13.7" lengthAdjust="spacingAndGlyphs">W1</text>
<text x="1120" y="12.9" font-size="9.33" fill="#484848" textLength="14.2" lengthAdjust="spacingAndGlyphs">MN</text>
<g><line x1="1605.6" y1="13.2" x2="1609.4" y2="9.6" stroke="#2458d0" stroke-width="2.8" stroke-linecap="round"/><circle cx="1612.4" cy="6.5" r="4" fill="#fbfcff" stroke="#2a60d8" stroke-width="1.4"/></g>
<defs><linearGradient id="gb" x1="0" y1="0" x2="0" y2="1"><stop offset="0" stop-color="#ffffff"/><stop offset="1" stop-color="#d8d8e8"/></linearGradient></defs>
<g fill="url(#gb)" stroke="#808080" stroke-width="1.1"><path d="M1646.5,10.6 l2.2,2.4 -0.2,-3.2 z" fill="#707070"/><ellipse cx="1645.2" cy="6.1" rx="6.3" ry="4.6"/><path d="M1634.2,13 l-1,3 2.8,-2.2 z" fill="#707070"/><ellipse cx="1636.3" cy="10.1" rx="5" ry="3.8"/></g>
<defs><linearGradient id="g1" x1="0" y1="0" x2="0" y2="1"><stop offset="0" stop-color="#f25656"/><stop offset="1" stop-color="#e23c3c"/></linearGradient><linearGradient id="g2" x1="0" y1="0" x2="0" y2="1"><stop offset="0" stop-color="#e03030"/><stop offset="1" stop-color="#b00000"/></linearGradient><linearGradient id="g3" x1="0" y1="0" x2="0" y2="1"><stop offset="0" stop-color="#f4f4f4"/><stop offset="0.5" stop-color="#e6e6e6"/><stop offset="0.5" stop-color="#dcdcdc"/><stop offset="1" stop-color="#d2d2d2"/></linearGradient></defs>
<g shape-rendering="crispEdges">
<rect x="0" y="45" width="213" height="24" fill="#f0f0f0"/>
<rect x="0" y="45" width="45" height="24" fill="url(#g1)"/>
<rect x="161" y="45" width="52" height="24" fill="url(#g1)"/>
<rect x="0" y="68" width="42" height="1" fill="#a80c0c"/>
<rect x="165" y="68" width="44" height="1" fill="#a80c0c"/>
<rect x="0" y="45" width="45" height="1" fill="#d63030"/>
<rect x="161" y="45" width="52" height="1" fill="#d63030"/>
<rect x="0" y="69" width="103" height="40" fill="url(#g2)"/>
<rect x="105" y="69" width="108" height="40" fill="url(#g2)"/>
<rect x="103" y="69" width="2" height="40" fill="#ffffff"/>
<rect x="48" y="45" width="111" height="22" fill="#a4acb8"/>
<rect x="49" y="46" width="20" height="20" fill="url(#g3)"/>
<rect x="138" y="46" width="20" height="20" fill="url(#g3)"/>
<rect x="70" y="46" width="67" height="20" fill="#ffffff"/>
<rect x="44" y="45" width="1" height="24" fill="#cc2020"/>
<rect x="161" y="45" width="1" height="24" fill="#cc2020"/>
<rect x="212" y="45" width="1" height="64" fill="#b81010"/>
<rect x="0" y="108" width="103" height="1" fill="#a00000"/>
<rect x="105" y="108" width="108" height="1" fill="#a00000"/>
</g>
<polygon points="56,54 61,54 58.5,57" fill="#4a60b8"/>
<polygon points="145,56.5 150,56.5 147.5,53.5" fill="#4a60b8"/>
<text x="133.5" y="60" font-size="12" fill="#000" text-anchor="end">1.00</text>
<text x="6.4" y="60.8" font-size="12" fill="#fff" textLength="25.5" lengthAdjust="spacingAndGlyphs">SELL</text>
<text x="174.6" y="60.8" font-size="12" fill="#fff" textLength="22.2" lengthAdjust="spacingAndGlyphs">BUY</text>
<text x="10.4" y="99.8" font-size="11.8" fill="#fff" textLength="34" lengthAdjust="spacingAndGlyphs" font-weight="bold">26144</text>
<text x="120.2" y="99.8" font-size="11.8" fill="#fff" textLength="34" lengthAdjust="spacingAndGlyphs" font-weight="bold">26157</text>
<text x="48.5" y="99.7" font-size="22" fill="#fff" font-weight="bold">.</text>
<text x="159.5" y="99.7" font-size="22" fill="#fff" font-weight="bold">.</text>
<text x="57" y="99.8" font-size="34" fill="#fff" textLength="14" lengthAdjust="spacingAndGlyphs">5</text>
<text x="168" y="99.8" font-size="34" fill="#fff" textLength="14" lengthAdjust="spacingAndGlyphs">5</text>
</svg>
</body></html>
